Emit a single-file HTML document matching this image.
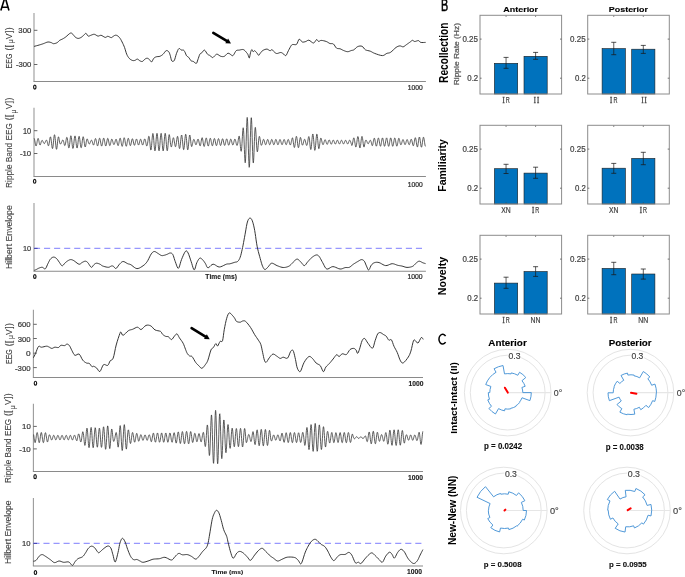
<!DOCTYPE html>
<html><head><meta charset="utf-8"><title>figure</title>
<style>html,body{margin:0;padding:0;background:#fff;}
#fig{position:relative;width:685px;height:577px;overflow:hidden;background:#fff;}
svg{display:block;}
text{font-kerning:none;}
#fig svg{will-change:transform;}
</style></head><body>
<div id="fig"><svg width="685" height="577" viewBox="0 0 685 577">
<rect x="0" y="0" width="685" height="577" fill="#fff"/>
<path d="M0.85 10.55 L4.65 -1.7 L5.45 -1.7 L8.95 10.55 M1.85 7.25 L8.0 7.25" fill="none" stroke="#000" stroke-width="1.6" stroke-linejoin="miter"/>
<line x1="34" y1="13" x2="34" y2="81.5" stroke="#9a9a9a" stroke-width="1.1"/>
<line x1="33.5" y1="81.5" x2="425.9" y2="81.5" stroke="#8a8a8a" stroke-width="1.05"/>
<line x1="34" y1="107.8" x2="34" y2="176.5" stroke="#9a9a9a" stroke-width="1.1"/>
<line x1="33.5" y1="176.5" x2="425.9" y2="176.5" stroke="#8a8a8a" stroke-width="1.05"/>
<line x1="34" y1="203" x2="34" y2="271.2" stroke="#9a9a9a" stroke-width="1.1"/>
<line x1="33.5" y1="271.2" x2="425.9" y2="271.2" stroke="#8a8a8a" stroke-width="1.05"/>
<line x1="33.4" y1="309.7" x2="33.4" y2="377.5" stroke="#9a9a9a" stroke-width="1.1"/>
<line x1="32.9" y1="377.5" x2="423" y2="377.5" stroke="#8a8a8a" stroke-width="1.05"/>
<line x1="33.4" y1="403.7" x2="33.4" y2="471.5" stroke="#9a9a9a" stroke-width="1.1"/>
<line x1="32.9" y1="471.5" x2="423" y2="471.5" stroke="#8a8a8a" stroke-width="1.05"/>
<line x1="33.4" y1="498.1" x2="33.4" y2="566" stroke="#9a9a9a" stroke-width="1.1"/>
<line x1="32.9" y1="566" x2="423" y2="566" stroke="#8a8a8a" stroke-width="1.05"/>
<line x1="34" y1="30.3" x2="37.4" y2="30.3" stroke="#555" stroke-width="0.9"/>
<line x1="34" y1="64.5" x2="37.4" y2="64.5" stroke="#555" stroke-width="0.9"/>
<line x1="34" y1="130.7" x2="37.4" y2="130.7" stroke="#555" stroke-width="0.9"/>
<line x1="34" y1="153.5" x2="37.4" y2="153.5" stroke="#555" stroke-width="0.9"/>
<line x1="33.4" y1="324.3" x2="36.8" y2="324.3" stroke="#555" stroke-width="0.9"/>
<line x1="33.4" y1="338.5" x2="36.8" y2="338.5" stroke="#555" stroke-width="0.9"/>
<line x1="33.4" y1="353.2" x2="36.8" y2="353.2" stroke="#555" stroke-width="0.9"/>
<line x1="33.4" y1="367.6" x2="36.8" y2="367.6" stroke="#555" stroke-width="0.9"/>
<line x1="33.4" y1="426.4" x2="36.8" y2="426.4" stroke="#555" stroke-width="0.9"/>
<line x1="33.4" y1="448.9" x2="36.8" y2="448.9" stroke="#555" stroke-width="0.9"/>
<line x1="34" y1="248.4" x2="425" y2="248.4" stroke="#9797fd" stroke-width="1.1" stroke-dasharray="6.1 3.95"/>
<line x1="33.4" y1="543.4" x2="422.5" y2="543.4" stroke="#9797fd" stroke-width="1.1" stroke-dasharray="6.1 3.95"/>
<line x1="34" y1="248.4" x2="37.6" y2="248.4" stroke="#4646b0" stroke-width="1.1"/>
<line x1="33.4" y1="543.4" x2="37" y2="543.4" stroke="#4646b0" stroke-width="1.1"/>
<polyline points="34.1,46.4 35.04,46.15 36.39,45.78 37.88,45.38 39.2,45 40.28,44.68 41.28,44.37 42.26,44.05 43.3,43.7 44.44,43.25 45.63,42.73 46.81,42.27 47.9,42 48.91,42 49.86,42.18 50.74,42.45 51.5,42.7 52.08,42.98 52.5,43.31 52.93,43.58 53.5,43.7 54.31,43.62 55.27,43.41 56.24,43.09 57.1,42.7 57.79,42.2 58.38,41.58 58.96,40.95 59.6,40.4 60.33,39.98 61.11,39.63 61.91,39.29 62.7,38.9 63.44,38.48 64.16,38.04 64.92,37.54 65.8,36.9 66.89,35.96 68.14,34.8 69.36,33.74 70.4,33.1 71.18,33.02 71.81,33.3 72.35,33.78 72.9,34.3 73.43,34.88 73.92,35.58 74.42,36.29 75,36.9 75.68,37.41 76.44,37.88 77.22,38.23 78,38.4 78.77,38.36 79.54,38.16 80.32,37.82 81.1,37.4 81.91,36.84 82.73,36.13 83.52,35.41 84.2,34.8 84.73,34.25 85.16,33.71 85.55,33.35 86,33.3 86.5,33.79 87.02,34.67 87.58,35.57 88.2,36.1 88.91,36.11 89.69,35.83 90.5,35.43 91.3,35.1 92.06,34.82 92.82,34.52 93.59,34.31 94.4,34.3 95.28,34.63 96.2,35.2 97.12,35.77 98,36.1 98.79,36.01 99.52,35.68 100.27,35.36 101.1,35.3 102.09,35.7 103.18,36.37 104.26,37.03 105.2,37.4 105.93,37.29 106.53,36.9 107.11,36.48 107.8,36.3 108.66,36.53 109.61,36.99 110.55,37.44 111.4,37.6 112.1,37.34 112.71,36.81 113.29,36.23 113.9,35.8 114.53,35.52 115.17,35.29 115.82,35.2 116.5,35.3 117.23,35.63 118,36.14 118.77,36.81 119.5,37.6 120.18,38.52 120.83,39.59 121.47,40.77 122.1,42 122.74,43.29 123.38,44.66 124.01,46.1 124.6,47.6 125.14,49.24 125.65,50.99 126.16,52.7 126.7,54.2 127.28,55.45 127.89,56.53 128.52,57.47 129.2,58.3 129.94,59.01 130.74,59.61 131.55,60.07 132.3,60.4 132.99,60.58 133.64,60.61 134.27,60.54 134.9,60.4 135.53,60.09 136.15,59.64 136.77,59.24 137.4,59.1 138.05,59.36 138.7,59.89 139.35,60.47 140,60.9 140.63,61.18 141.25,61.41 141.87,61.51 142.5,61.4 143.15,60.96 143.8,60.27 144.45,59.55 145.1,59 145.73,58.64 146.35,58.37 146.97,58.24 147.6,58.3 148.27,58.64 148.96,59.21 149.62,59.85 150.2,60.4 150.64,60.94 150.98,61.51 151.31,61.9 151.7,61.9 152.17,61.31 152.69,60.29 153.23,59.17 153.8,58.3 154.37,57.75 154.96,57.36 155.59,57.06 156.3,56.8 157.13,56.64 158.06,56.59 159,56.51 159.9,56.3 160.73,55.92 161.54,55.44 162.32,54.86 163.1,54.2 163.87,53.32 164.64,52.26 165.38,51.29 166.1,50.7 166.8,50.57 167.49,50.76 168.14,51.16 168.7,51.7 169.15,52.37 169.51,53.21 169.84,54.2 170.2,55.3 170.57,56.7 170.94,58.36 171.33,59.88 171.8,60.9 172.37,61.35 173.02,61.42 173.68,61.1 174.3,60.4 174.84,59.12 175.35,57.34 175.86,55.41 176.4,53.7 176.99,52.16 177.62,50.64 178.26,49.37 178.9,48.6 179.56,48.55 180.23,49.03 180.89,49.68 181.5,50.1 182.05,50.16 182.57,50.06 183.05,49.99 183.5,50.1 183.91,50.44 184.28,50.92 184.63,51.52 185,52.2 185.38,53.04 185.77,54.04 186.17,55.01 186.6,55.8 187.06,56.27 187.54,56.55 188.05,56.83 188.6,57.3 189.22,58.12 189.9,59.16 190.58,60.17 191.2,60.9 191.72,61.21 192.17,61.25 192.64,61.24 193.2,61.4 193.94,61.92 194.78,62.65 195.61,63.25 196.3,63.4 196.77,62.96 197.11,62.13 197.42,61.06 197.8,59.9 198.29,58.53 198.82,56.93 199.37,55.38 199.9,54.2 200.39,53.56 200.87,53.26 201.36,53.05 201.9,52.7 202.5,51.97 203.14,51.05 203.81,50.3 204.5,50.1 205.23,50.72 206,51.9 206.77,53.21 207.5,54.2 208.18,54.73 208.83,55.03 209.47,55.27 210.1,55.6 210.73,56.16 211.35,56.83 211.97,57.39 212.6,57.6 213.26,57.3 213.93,56.64 214.59,55.89 215.2,55.3 215.7,54.87 216.14,54.47 216.6,54.22 217.2,54.2 217.99,54.55 218.9,55.18 219.86,55.85 220.8,56.3 221.7,56.52 222.59,56.62 223.49,56.57 224.4,56.3 225.31,55.61 226.22,54.6 227.14,53.66 228.1,53.2 229.16,53.49 230.29,54.26 231.35,55.1 232.2,55.6 232.73,55.68 233.05,55.55 233.32,55.22 233.7,54.7 234.24,53.84 234.85,52.68 235.51,51.53 236.2,50.7 236.91,50.31 237.65,50.18 238.44,50.16 239.3,50.1 240.28,49.89 241.35,49.63 242.42,49.48 243.4,49.6 244.28,50.1 245.11,50.88 245.86,51.74 246.5,52.5 246.99,53.07 247.36,53.57 247.68,54.09 248,54.7 248.34,55.65 248.67,56.82 248.99,57.75 249.3,58 249.6,57.23 249.9,55.75 250.2,54.07 250.5,52.7 250.82,51.65 251.14,50.69 251.47,49.96 251.8,49.6 252.12,49.83 252.44,50.52 252.76,51.27 253.1,51.7 253.45,51.6 253.8,51.21 254.18,50.81 254.6,50.7 255.09,50.98 255.62,51.48 256.17,52.09 256.7,52.7 257.22,53.42 257.73,54.26 258.23,54.97 258.7,55.3 259.11,55.12 259.47,54.58 259.85,53.88 260.3,53.2 260.82,52.54 261.39,51.81 262.04,51.1 262.8,50.5 263.74,49.99 264.81,49.53 265.91,49.21 266.9,49.1 267.77,49.35 268.58,49.88 269.33,50.42 270,50.7 270.59,50.55 271.1,50.15 271.56,49.75 272,49.6 272.37,49.79 272.68,50.19 273.02,50.69 273.5,51.2 274.14,51.8 274.89,52.51 275.72,53.14 276.6,53.5 277.59,53.43 278.69,53.07 279.76,52.67 280.7,52.5 281.44,52.63 282.04,52.92 282.61,53.3 283.2,53.7 283.84,54.29 284.49,55.03 285.15,55.59 285.8,55.6 286.44,54.86 287.08,53.61 287.72,52.12 288.4,50.7 289.15,49.28 289.96,47.74 290.73,46.34 291.4,45.3 291.87,44.76 292.22,44.58 292.58,44.55 293.1,44.5 293.87,44.52 294.79,44.67 295.75,44.68 296.6,44.3 297.3,43.18 297.93,41.56 298.54,40.03 299.2,39.2 299.93,39.42 300.69,40.31 301.49,41.35 302.3,42 303.16,42.13 304.05,42.01 304.94,41.76 305.8,41.5 306.57,41.14 307.28,40.64 308.03,40.26 308.9,40.2 309.98,40.76 311.2,41.73 312.42,42.64 313.5,43 314.41,42.46 315.21,41.36 315.94,40.22 316.6,39.6 317.16,39.77 317.63,40.41 318.08,41.11 318.6,41.5 319.15,41.38 319.71,41 320.36,40.59 321.2,40.4 322.33,40.5 323.69,40.76 325.07,41.11 326.3,41.5 327.31,41.97 328.2,42.54 329.04,43.08 329.9,43.5 330.79,43.65 331.68,43.62 332.56,43.66 333.4,44 334.19,44.85 334.94,46.04 335.7,47.23 336.5,48.1 337.37,48.49 338.27,48.6 339.2,48.63 340.1,48.8 340.97,49.17 341.82,49.62 342.69,50.09 343.6,50.5 344.59,50.89 345.64,51.28 346.7,51.58 347.7,51.7 348.66,51.56 349.59,51.22 350.48,50.82 351.3,50.5 351.99,50.35 352.59,50.27 353.19,50.14 353.9,49.8 354.75,49.11 355.69,48.17 356.68,47.25 357.7,46.6 358.78,46.23 359.93,46.03 361.06,46.04 362.1,46.3 362.96,46.96 363.72,47.94 364.49,48.98 365.4,49.8 366.52,50.28 367.78,50.58 369.07,50.84 370.3,51.2 371.36,51.69 372.32,52.25 373.38,52.83 374.7,53.4 376.47,54.05 378.55,54.78 380.63,55.36 382.4,55.6 383.75,55.33 384.84,54.71 385.82,53.98 386.8,53.4 387.75,53.14 388.63,53.02 389.54,52.82 390.6,52.3 391.9,51.26 393.35,49.87 394.8,48.47 396.1,47.4 397.18,46.73 398.14,46.29 399.03,46.03 399.9,45.9 400.76,46.03 401.58,46.39 402.39,46.74 403.2,46.8 404.01,46.48 404.82,45.92 405.64,45.26 406.5,44.6 407.45,43.93 408.47,43.21 409.45,42.51 410.3,41.9 410.96,41.36 411.5,40.86 411.99,40.48 412.5,40.3 413.01,40.45 413.5,40.86 414.04,41.28 414.7,41.5 415.57,41.36 416.6,41.01 417.62,40.68 418.5,40.6 419.1,40.9 419.53,41.44 420,42.01 420.7,42.4 421.85,42.53 423.29,42.51 424.66,42.44 425.6,42.4" fill="none" stroke="#2b2b2b" stroke-width="0.95" stroke-linejoin="round"/>
<polyline points="34.1,270.4 34.35,270.3 34.7,270.18 35.12,270.02 35.6,269.82 36.1,269.6 36.65,269.32 37.26,268.97 37.91,268.61 38.56,268.28 39.2,268 39.82,267.77 40.44,267.55 41.07,267.38 41.69,267.28 42.3,267.3 42.91,267.56 43.53,268.06 44.13,268.57 44.73,268.89 45.3,268.8 45.85,268.19 46.37,267.21 46.89,266.02 47.39,264.79 47.9,263.7 48.4,262.71 48.88,261.7 49.36,260.73 49.86,259.85 50.4,259.1 50.98,258.48 51.6,257.94 52.23,257.52 52.87,257.23 53.5,257.1 54.12,257.13 54.74,257.32 55.37,257.64 55.99,258.08 56.6,258.6 57.21,259.27 57.83,260.1 58.43,261.01 59.03,261.9 59.6,262.7 60.14,263.48 60.64,264.31 61.14,265.05 61.65,265.59 62.2,265.8 62.79,265.56 63.41,264.96 64.04,264.17 64.68,263.36 65.3,262.7 65.91,262.18 66.53,261.69 67.13,261.24 67.73,260.84 68.3,260.5 68.84,260.2 69.35,259.95 69.85,259.75 70.36,259.63 70.9,259.6 71.44,259.65 71.97,259.78 72.53,259.99 73.16,260.29 73.9,260.7 74.82,261.33 75.88,262.18 77,263.06 78.07,263.79 79,264.2 79.75,264.19 80.38,263.88 80.96,263.4 81.51,262.9 82.1,262.5 82.73,262.17 83.37,261.83 84,261.51 84.62,261.29 85.2,261.2 85.72,261.24 86.19,261.36 86.65,261.6 87.14,261.97 87.7,262.5 88.37,263.35 89.11,264.52 89.88,265.74 90.63,266.76 91.3,267.3 91.89,267.24 92.42,266.74 92.92,266.02 93.4,265.27 93.9,264.7 94.39,264.29 94.85,263.9 95.33,263.57 95.83,263.32 96.4,263.2 97.06,263.23 97.8,263.38 98.57,263.62 99.32,263.91 100,264.2 100.55,264.52 101.01,264.89 101.45,265.28 101.99,265.66 102.7,266 103.67,266.33 104.85,266.68 106.1,266.99 107.29,267.21 108.3,267.3 109.1,267.18 109.77,266.89 110.36,266.53 110.89,266.2 111.4,266 111.86,265.93 112.25,265.91 112.61,265.97 112.98,266.09 113.4,266.3 113.87,266.72 114.35,267.36 114.87,268 115.41,268.45 116,268.5 116.64,268.03 117.33,267.17 118.05,266.12 118.78,265.06 119.5,264.2 120.2,263.48 120.88,262.77 121.58,262.15 122.31,261.7 123.1,261.5 123.98,261.65 124.94,262.08 125.92,262.67 126.86,263.26 127.7,263.7 128.37,263.93 128.9,264.05 129.42,264.15 130.01,264.33 130.8,264.7 131.83,265.4 133.02,266.37 134.32,267.38 135.63,268.2 136.9,268.6 138.15,268.49 139.44,268.02 140.7,267.34 141.91,266.55 143,265.8 143.95,265.12 144.78,264.43 145.56,263.66 146.31,262.77 147.1,261.7 147.94,260.31 148.79,258.63 149.63,256.88 150.44,255.26 151.2,254 151.88,253.1 152.49,252.42 153.08,251.94 153.67,251.64 154.3,251.5 154.97,251.58 155.67,251.89 156.37,252.34 157.09,252.85 157.8,253.3 158.53,253.75 159.28,254.27 160.02,254.77 160.74,255.21 161.4,255.5 161.99,255.63 162.53,255.63 163.03,255.55 163.55,255.43 164.1,255.3 164.7,255.16 165.32,254.97 165.95,254.76 166.58,254.53 167.2,254.3 167.81,254.01 168.43,253.67 169.03,253.33 169.63,253.09 170.2,253 170.75,253.03 171.27,253.12 171.79,253.36 172.29,253.79 172.8,254.5 173.3,255.58 173.78,257 174.26,258.59 174.76,260.21 175.3,261.7 175.88,263.3 176.5,265.12 177.13,266.79 177.77,267.97 178.4,268.3 179.01,267.53 179.6,265.9 180.2,263.79 180.82,261.56 181.5,259.6 182.26,257.75 183.1,255.77 183.96,253.88 184.78,252.31 185.5,251.3 186.1,250.89 186.62,250.92 187.09,251.34 187.57,252.05 188.1,253 188.69,254.3 189.31,256 189.94,257.92 190.58,259.88 191.2,261.7 191.81,263.62 192.43,265.76 193.03,267.75 193.63,269.25 194.2,269.9 194.74,269.4 195.24,268 195.74,266.13 196.25,264.22 196.8,262.7 197.39,261.51 198.01,260.36 198.64,259.34 199.28,258.56 199.9,258.1 200.51,258.05 201.13,258.35 201.73,258.87 202.33,259.49 202.9,260.1 203.45,260.71 203.97,261.4 204.49,262.15 204.99,262.92 205.5,263.7 205.96,264.61 206.38,265.67 206.82,266.69 207.34,267.46 208,267.8 208.84,267.47 209.8,266.61 210.86,265.55 211.97,264.63 213.1,264.2 214.26,264.44 215.46,265.13 216.7,265.98 217.98,266.7 219.3,267 220.72,266.76 222.25,266.17 223.78,265.42 225.2,264.7 226.4,264.2 227.31,263.98 228,263.92 228.58,263.92 229.17,263.91 229.9,263.8 230.81,263.56 231.81,263.25 232.85,262.91 233.83,262.58 234.7,262.3 235.42,262.13 236.05,262.06 236.62,261.97 237.16,261.78 237.7,261.4 238.23,260.86 238.74,260.22 239.23,259.43 239.71,258.44 240.2,257.2 240.69,255.66 241.17,253.86 241.64,251.87 242.12,249.73 242.6,247.5 243.08,245.14 243.56,242.6 244.04,239.96 244.52,237.3 245,234.7 245.48,232.01 245.96,229.19 246.43,226.44 246.91,223.98 247.4,222 247.9,220.55 248.4,219.49 248.9,218.76 249.4,218.32 249.9,218.1 250.39,218.11 250.87,218.37 251.34,218.9 251.82,219.71 252.3,220.8 252.78,222.2 253.26,223.89 253.74,225.85 254.22,228.06 254.7,230.5 255.17,233.31 255.63,236.52 256.09,239.88 256.58,243.19 257.1,246.2 257.69,248.93 258.32,251.54 258.98,254 259.61,256.29 260.2,258.4 260.72,260.33 261.21,262.1 261.67,263.68 262.13,265.09 262.6,266.3 263.07,267.33 263.53,268.2 263.99,268.86 264.48,269.31 265,269.5 265.57,269.37 266.17,268.93 266.79,268.3 267.44,267.58 268.1,266.9 268.76,266.13 269.41,265.2 270.1,264.29 270.85,263.56 271.7,263.2 272.67,263.31 273.74,263.79 274.87,264.45 276.04,265.15 277.2,265.7 278.38,266.15 279.59,266.61 280.81,267.03 282.02,267.34 283.2,267.5 284.36,267.48 285.53,267.33 286.66,267.06 287.73,266.71 288.7,266.3 289.58,265.78 290.39,265.12 291.12,264.42 291.76,263.75 292.3,263.2 292.67,262.82 292.88,262.54 293.02,262.3 293.23,262.04 293.6,261.7 294.17,261.16 294.88,260.48 295.66,259.8 296.45,259.29 297.2,259.1 297.9,259.3 298.6,259.79 299.3,260.46 300,261.2 300.7,261.9 301.42,262.7 302.16,263.66 302.89,264.59 303.61,265.3 304.3,265.6 304.94,265.39 305.53,264.8 306.11,263.97 306.72,263.06 307.4,262.2 308.15,261.36 308.94,260.44 309.78,259.49 310.63,258.59 311.5,257.8 312.41,257.07 313.38,256.36 314.35,255.74 315.27,255.27 316.1,255 316.79,254.93 317.39,255.02 317.93,255.29 318.49,255.74 319.1,256.4 319.77,257.35 320.47,258.57 321.2,259.94 321.94,261.36 322.7,262.7 323.46,264.1 324.21,265.64 324.99,267.11 325.84,268.3 326.8,269 327.87,269 329.04,268.44 330.28,267.63 331.58,266.91 332.9,266.6 334.3,266.83 335.8,267.4 337.32,268.08 338.78,268.69 340.1,269 341.27,268.95 342.34,268.66 343.33,268.26 344.28,267.87 345.2,267.6 346.08,267.51 346.91,267.54 347.71,267.57 348.5,267.52 349.3,267.3 350.11,266.86 350.9,266.26 351.7,265.57 352.53,264.86 353.4,264.2 354.35,263.57 355.38,262.93 356.42,262.29 357.41,261.71 358.3,261.2 359.07,260.74 359.76,260.31 360.4,259.94 361,259.69 361.6,259.6 362.19,259.66 362.75,259.85 363.28,260.17 363.8,260.62 364.3,261.2 364.77,261.98 365.22,262.97 365.64,264.05 366.07,265.13 366.5,266.1 366.93,267.09 367.36,268.16 367.78,269.13 368.23,269.81 368.7,270 369.2,269.53 369.72,268.52 370.25,267.24 370.81,265.98 371.4,265 372,264.32 372.62,263.74 373.27,263.26 373.96,262.88 374.7,262.6 375.47,262.4 376.28,262.28 377.13,262.27 378.06,262.37 379.1,262.6 380.28,263.09 381.59,263.82 382.96,264.61 384.35,265.27 385.7,265.6 387.02,265.48 388.36,265.02 389.68,264.44 390.97,263.93 392.2,263.7 393.38,263.81 394.52,264.13 395.63,264.55 396.69,264.98 397.7,265.3 398.64,265.5 399.52,265.65 400.36,265.78 401.21,265.92 402.1,266.1 403.04,266.36 404,266.69 404.97,267.02 405.97,267.28 407,267.4 408.1,267.38 409.26,267.26 410.43,267.05 411.53,266.76 412.5,266.4 413.3,265.92 413.98,265.31 414.59,264.64 415.18,263.98 415.8,263.4 416.45,262.85 417.1,262.28 417.74,261.77 418.41,261.38 419.1,261.2 419.85,261.29 420.64,261.6 421.44,262.04 422.2,262.47 422.9,262.8 423.55,263.02 424.19,263.22 424.77,263.38 425.25,263.5 425.6,263.6" fill="none" stroke="#2b2b2b" stroke-width="0.95" stroke-linejoin="round"/>
<polyline points="33.4,357.8 33.76,357.09 34.26,356.09 34.86,354.87 35.5,353.5 36.19,351.76 36.94,349.69 37.73,347.77 38.5,346.5 39.21,346.17 39.88,346.48 40.62,346.96 41.5,347.2 42.65,347.03 43.99,346.7 45.31,346.37 46.4,346.2 47.16,346.24 47.72,346.39 48.22,346.63 48.8,346.9 49.51,347.28 50.26,347.77 51.03,348.2 51.8,348.4 52.56,348.25 53.31,347.87 54.09,347.46 54.9,347.2 55.79,347.23 56.74,347.41 57.67,347.57 58.5,347.5 59.15,347.07 59.69,346.4 60.24,345.73 60.9,345.3 61.76,345.24 62.75,345.41 63.74,345.59 64.6,345.6 65.29,345.28 65.88,344.78 66.43,344.31 67,344.1 67.6,344.18 68.19,344.45 68.79,344.92 69.4,345.6 70.01,346.59 70.61,347.84 71.24,349.2 71.9,350.5 72.59,351.85 73.29,353.28 74.05,354.52 74.9,355.3 75.88,355.25 76.96,354.62 78.06,354.03 79.1,354.1 80.06,355.19 80.99,356.9 81.89,358.74 82.8,360.2 83.72,361.19 84.64,361.95 85.54,362.54 86.4,363 87.2,363.23 87.97,363.23 88.7,363.25 89.4,363.5 90.08,364.17 90.73,365.1 91.34,366 91.9,366.6 92.37,366.71 92.77,366.53 93.18,366.31 93.7,366.3 94.36,366.56 95.11,366.97 95.91,367.49 96.7,368.1 97.48,369.08 98.26,370.34 99.07,371.33 99.9,371.5 100.76,370.34 101.64,368.27 102.55,366.11 103.5,364.7 104.55,364.47 105.67,364.91 106.76,365.42 107.7,365.4 108.43,364.58 109.03,363.31 109.58,361.94 110.2,360.8 110.91,360.24 111.67,359.98 112.44,359.46 113.2,358.1 113.93,355.52 114.66,352.1 115.4,348.41 116.2,345 117.13,341.77 118.16,338.51 119.13,335.61 119.9,333.5 120.36,332.38 120.61,331.99 120.8,332.06 121.1,332.3 121.47,332.93 121.84,334.01 122.35,334.99 123.1,335.3 124.22,334.61 125.61,333.27 127.07,331.8 128.4,330.7 129.51,330.14 130.53,329.84 131.53,329.62 132.6,329.3 133.81,328.72 135.09,328.02 136.35,327.43 137.5,327.2 138.46,327.62 139.3,328.47 140.14,329.27 141.1,329.5 142.24,328.82 143.47,327.56 144.75,326.25 146,325.4 147.22,325.12 148.44,325.14 149.64,325.42 150.8,325.9 151.86,326.71 152.86,327.84 153.87,328.99 155,329.9 156.37,330.42 157.89,330.73 159.35,331 160.5,331.4 161.2,332 161.6,332.71 161.93,333.43 162.4,334.1 163.09,334.73 163.88,335.34 164.7,335.88 165.5,336.3 166.26,336.49 167.01,336.51 167.75,336.55 168.5,336.8 169.25,337.49 169.99,338.46 170.74,339.3 171.5,339.6 172.28,339.09 173.09,338.05 173.87,336.86 174.6,335.9 175.25,335.14 175.84,334.42 176.42,333.95 177,333.9 177.57,334.42 178.12,335.39 178.71,336.58 179.4,337.8 180.26,339.03 181.25,340.36 182.24,341.77 183.1,343.2 183.81,344.72 184.42,346.32 184.97,347.89 185.5,349.3 185.98,350.52 186.4,351.62 186.82,352.61 187.3,353.5 187.86,354.29 188.46,354.98 189.09,355.55 189.7,356 190.27,356.16 190.82,356.08 191.41,356.11 192.1,356.6 192.95,357.79 193.91,359.44 194.89,361.18 195.8,362.6 196.6,363.59 197.34,364.36 198.06,365.03 198.8,365.7 199.56,366.54 200.31,367.44 201.09,368.12 201.9,368.3 202.79,367.79 203.74,366.78 204.67,365.55 205.5,364.4 206.17,363.51 206.73,362.7 207.28,361.69 207.9,360.2 208.64,357.87 209.45,354.94 210.26,352.06 211,349.9 211.65,348.78 212.24,348.3 212.82,348.02 213.4,347.5 214.01,346.48 214.64,345.25 215.24,344.17 215.8,343.6 216.28,343.92 216.69,344.84 217.11,345.74 217.6,346 218.18,345.25 218.81,343.89 219.47,342.43 220.1,341.4 220.72,341.22 221.34,341.53 221.94,341.62 222.5,340.8 222.98,338.68 223.4,335.7 223.82,332.4 224.3,329.3 224.86,326.38 225.46,323.42 226.08,320.64 226.7,318.3 227.3,316.37 227.91,314.76 228.53,313.57 229.2,312.9 229.95,312.94 230.76,313.57 231.56,314.47 232.3,315.3 232.96,316.01 233.58,316.76 234.16,317.53 234.7,318.3 235.15,319.12 235.52,319.99 235.93,320.78 236.5,321.4 237.32,321.81 238.31,322.07 239.32,322.19 240.2,322.2 240.88,322 241.44,321.62 241.99,321.23 242.6,321 243.26,320.86 243.94,320.75 244.7,320.87 245.6,321.4 246.71,322.48 247.97,323.97 249.28,325.68 250.5,327.4 251.61,329.18 252.68,331.08 253.7,332.97 254.7,334.7 255.69,336.23 256.66,337.64 257.58,338.96 258.4,340.2 259.11,341.25 259.72,342.15 260.27,343.12 260.8,344.4 261.29,346.11 261.74,348.12 262.16,350.24 262.6,352.3 263.05,354.41 263.5,356.61 263.95,358.63 264.4,360.2 264.82,361.29 265.22,362.02 265.66,362.37 266.2,362.3 266.87,361.62 267.64,360.41 268.46,359.02 269.3,357.8 270.16,356.69 271.06,355.55 271.98,354.61 272.9,354.1 273.82,354.17 274.75,354.67 275.68,355.36 276.6,356 277.52,356.65 278.44,357.39 279.34,358.04 280.2,358.4 280.96,358.3 281.66,357.89 282.37,357.44 283.2,357.2 284.21,357.45 285.35,357.97 286.49,358.34 287.5,358.1 288.37,356.9 289.16,355.06 289.86,353.13 290.5,351.7 291.05,350.89 291.51,350.4 291.91,350.16 292.3,350.1 292.65,350.13 292.94,350.31 293.24,350.78 293.6,351.7 294.04,353.22 294.52,355.22 295.02,357.44 295.5,359.6 295.93,361.8 296.33,364.13 296.77,366.32 297.3,368.1 297.95,369.6 298.68,370.89 299.47,371.63 300.3,371.5 301.15,370.07 302.04,367.64 302.98,364.91 304,362.6 305.15,360.71 306.41,358.93 307.66,357.48 308.8,356.6 309.78,356.44 310.67,356.84 311.52,357.57 312.4,358.4 313.31,359.4 314.21,360.64 315.14,361.92 316.1,363 317.14,363.73 318.24,364.26 319.32,364.84 320.3,365.7 321.17,367.22 321.96,369.16 322.7,370.87 323.4,371.7 324.02,371.27 324.57,370 325.13,368.43 325.8,367.1 326.61,366.15 327.52,365.29 328.46,364.44 329.4,363.5 330.32,362.43 331.25,361.29 332.18,360.13 333.1,359 334.04,357.77 334.98,356.45 335.89,355.33 336.7,354.7 337.37,354.85 337.93,355.56 338.48,356.31 339.1,356.6 339.8,356.15 340.54,355.28 341.33,354.36 342.2,353.8 343.19,353.86 344.27,354.28 345.37,354.64 346.4,354.5 347.34,353.58 348.23,352.17 349.11,350.7 350,349.6 350.95,348.97 351.93,348.59 352.86,348.41 353.7,348.4 354.41,348.58 355.04,348.97 355.59,349.49 356.1,350.1 356.53,350.99 356.88,352.12 357.22,353.06 357.6,353.4 358.03,352.98 358.48,352.04 358.97,350.73 359.5,349.2 360.1,347.23 360.76,344.82 361.43,342.48 362.1,340.7 362.73,339.54 363.36,338.77 364,338.41 364.7,338.5 365.45,339.21 366.23,340.46 367.07,341.93 368,343.3 369.09,344.81 370.29,346.52 371.48,347.84 372.5,348.2 373.28,347.18 373.92,345.18 374.49,342.82 375.1,340.7 375.75,338.82 376.4,336.91 377.05,335.2 377.7,333.9 378.33,333.11 378.96,332.7 379.6,332.56 380.3,332.6 381.09,332.88 381.95,333.42 382.81,334.05 383.6,334.6 384.3,334.97 384.94,335.28 385.57,335.65 386.2,336.2 386.85,337.11 387.5,338.27 388.15,339.37 388.8,340.1 389.45,340.16 390.1,339.79 390.75,339.5 391.4,339.8 392.04,340.96 392.66,342.65 393.31,344.54 394,346.3 394.76,347.8 395.56,349.22 396.38,350.72 397.2,352.4 398.03,354.51 398.87,356.91 399.7,359.18 400.5,360.9 401.21,362.02 401.85,362.74 402.54,363.02 403.4,362.8 404.54,361.89 405.87,360.39 407.19,358.64 408.3,357 409.11,355.64 409.74,354.34 410.3,352.89 410.9,351.1 411.57,348.57 412.24,345.53 412.9,342.67 413.5,340.7 414.01,339.91 414.45,339.91 414.89,340.29 415.4,340.7 415.98,341.3 416.61,342.19 417.28,342.92 418,343 418.81,342 419.69,340.27 420.56,338.54 421.3,337.5 421.92,337.5 422.46,338.11 422.89,338.89 423.2,339.4" fill="none" stroke="#2b2b2b" stroke-width="0.95" stroke-linejoin="round"/>
<polyline points="33.3,561.3 33.68,561.21 34.2,561.12 34.82,560.97 35.48,560.71 36.1,560.3 36.7,559.64 37.33,558.76 37.96,557.81 38.59,556.91 39.2,556.2 39.79,555.67 40.36,555.23 40.93,554.89 41.5,554.68 42.1,554.6 42.69,554.68 43.27,554.92 43.87,555.27 44.53,555.71 45.3,556.2 46.21,556.79 47.25,557.49 48.34,558.25 49.41,559.01 50.4,559.7 51.28,560.39 52.09,561.12 52.87,561.79 53.66,562.32 54.5,562.6 55.39,562.52 56.3,562.14 57.24,561.65 58.17,561.21 59.1,561 60.01,561.1 60.92,561.39 61.82,561.76 62.75,562.1 63.7,562.3 64.71,562.28 65.78,562.12 66.84,561.93 67.87,561.85 68.8,562 69.63,562.56 70.4,563.43 71.1,564.37 71.77,565.11 72.4,565.4 72.98,565.12 73.49,564.44 73.98,563.54 74.47,562.6 75,561.8 75.55,561.13 76.09,560.47 76.67,559.84 77.29,559.24 78,558.7 78.84,558.26 79.8,557.92 80.79,557.6 81.75,557.22 82.6,556.7 83.33,556.01 83.98,555.21 84.58,554.34 85.14,553.45 85.7,552.6 86.23,551.75 86.71,550.87 87.19,550.01 87.67,549.2 88.2,548.5 88.78,547.87 89.4,547.28 90.03,546.77 90.67,546.4 91.3,546.2 91.92,546.18 92.54,546.33 93.17,546.61 93.79,547 94.4,547.5 95.03,548.19 95.67,549.09 96.3,550.05 96.88,550.93 97.4,551.6 97.78,552.07 98.06,552.44 98.31,552.68 98.63,552.74 99.1,552.6 99.76,552.16 100.54,551.46 101.41,550.62 102.31,549.76 103.2,549 104.11,548.28 105.08,547.52 106.05,546.81 106.97,546.27 107.8,546 108.52,546.01 109.16,546.22 109.74,546.63 110.28,547.23 110.8,548 111.27,549.01 111.7,550.27 112.09,551.68 112.48,553.16 112.9,554.6 113.34,556.3 113.78,558.31 114.23,560.21 114.7,561.58 115.2,562 115.74,561.2 116.32,559.46 116.91,557.19 117.48,554.77 118,552.6 118.44,550.6 118.84,548.5 119.21,546.43 119.59,544.52 120,542.9 120.45,541.52 120.92,540.3 121.4,539.3 121.89,538.61 122.4,538.3 122.92,538.43 123.46,538.96 124.01,539.78 124.56,540.79 125.1,541.9 125.62,543.17 126.12,544.67 126.63,546.3 127.15,547.94 127.7,549.5 128.29,551.03 128.91,552.61 129.54,554.14 130.18,555.54 130.8,556.7 131.4,557.62 132,558.36 132.6,558.93 133.2,559.37 133.8,559.7 134.41,559.84 135.03,559.77 135.66,559.61 136.28,559.48 136.9,559.5 137.52,559.69 138.14,559.99 138.77,560.33 139.39,560.69 140,561 140.57,561.31 141.11,561.66 141.65,561.98 142.27,562.21 143,562.3 143.89,562.21 144.89,561.99 145.96,561.68 147.05,561.33 148.1,561 149.1,560.65 150.09,560.25 151.08,559.85 152.11,559.48 153.2,559.2 154.38,559.03 155.63,558.95 156.92,558.9 158.19,558.84 159.4,558.7 160.53,558.41 161.6,558.01 162.65,557.61 163.74,557.33 164.9,557.3 166.2,557.68 167.6,558.39 169.02,559.18 170.35,559.8 171.5,560 172.43,559.67 173.19,558.98 173.87,558.1 174.51,557.18 175.2,556.4 175.93,555.69 176.65,554.95 177.36,554.25 178.08,553.71 178.8,553.4 179.5,553.42 180.18,553.72 180.87,554.14 181.6,554.55 182.4,554.8 183.31,554.83 184.3,554.74 185.33,554.61 186.34,554.54 187.3,554.6 188.18,554.82 189.03,555.13 189.85,555.52 190.66,555.95 191.5,556.4 192.36,556.98 193.25,557.7 194.13,558.41 194.98,558.93 195.8,559.1 196.57,558.84 197.31,558.26 198.03,557.47 198.72,556.61 199.4,555.8 200.04,555.01 200.65,554.16 201.25,553.29 201.86,552.42 202.5,551.6 203.22,550.84 203.99,550.11 204.77,549.39 205.49,548.66 206.1,547.9 206.58,547.18 206.95,546.52 207.27,545.8 207.57,544.9 207.9,543.7 208.25,542.19 208.59,540.45 208.93,538.5 209.3,536.34 209.7,534 210.16,531.26 210.67,528.1 211.2,524.86 211.71,521.85 212.2,519.4 212.65,517.59 213.07,516.2 213.48,515.11 213.89,514.19 214.3,513.3 214.72,512.42 215.13,511.62 215.54,510.96 215.96,510.5 216.4,510.3 216.86,510.35 217.33,510.61 217.82,511.08 218.31,511.78 218.8,512.7 219.3,513.91 219.8,515.41 220.3,517.09 220.8,518.86 221.3,520.6 221.78,522.38 222.24,524.27 222.7,526.18 223.18,528.01 223.7,529.7 224.29,531.2 224.93,532.59 225.59,533.89 226.19,535.14 226.7,536.4 227.06,537.59 227.32,538.67 227.54,539.77 227.78,540.97 228.1,542.4 228.53,544.16 229.02,546.19 229.54,548.3 230.08,550.33 230.6,552.1 231.1,553.73 231.58,555.34 232.08,556.74 232.61,557.75 233.2,558.2 233.87,557.84 234.6,556.8 235.36,555.43 236.1,554.08 236.8,553.1 237.43,552.49 238.01,552.01 238.59,551.67 239.17,551.47 239.8,551.4 240.47,551.48 241.17,551.72 241.9,552.08 242.64,552.55 243.4,553.1 244.21,553.78 245.06,554.62 245.92,555.52 246.74,556.41 247.5,557.2 248.15,558.02 248.73,558.91 249.27,559.71 249.85,560.23 250.5,560.3 251.25,559.78 252.06,558.8 252.91,557.55 253.76,556.25 254.6,555.1 255.43,554.07 256.26,553.02 257.1,552 257.91,551.07 258.7,550.3 259.45,549.64 260.18,549.04 260.88,548.58 261.59,548.32 262.3,548.3 263.01,548.61 263.72,549.2 264.42,549.97 265.15,550.8 265.9,551.6 266.7,552.39 267.53,553.26 268.38,554.14 269.21,554.97 270,555.7 270.73,556.3 271.41,556.8 272.09,557.26 272.77,557.71 273.5,558.2 274.27,558.81 275.07,559.52 275.9,560.2 276.74,560.73 277.6,561 278.48,560.94 279.38,560.62 280.3,560.16 281.24,559.65 282.2,559.2 283.15,558.78 284.1,558.3 285.08,557.84 286.13,557.46 287.3,557.2 288.68,557.07 290.24,557.03 291.84,557.09 293.34,557.24 294.6,557.5 295.57,557.89 296.34,558.42 296.98,559.02 297.58,559.67 298.2,560.3 298.82,561.16 299.39,562.29 299.95,563.32 300.54,563.88 301.2,563.6 301.96,562.18 302.78,559.86 303.64,557.1 304.49,554.36 305.3,552.1 306.06,550.34 306.8,548.76 307.52,547.35 308.22,546.07 308.9,544.9 309.55,543.84 310.17,542.91 310.77,542.1 311.38,541.4 312,540.8 312.65,540.27 313.31,539.82 313.97,539.48 314.64,539.3 315.3,539.3 315.97,539.56 316.65,540.05 317.33,540.67 317.98,541.32 318.6,541.9 319.15,542.41 319.65,542.93 320.13,543.43 320.63,543.93 321.2,544.4 321.85,544.81 322.55,545.15 323.29,545.5 324.01,545.93 324.7,546.5 325.35,547.24 325.97,548.09 326.58,549.03 327.19,550.04 327.8,551.1 328.42,552.27 329.04,553.56 329.67,554.88 330.29,556.13 330.9,557.2 331.5,558.17 332.08,559.1 332.66,559.9 333.26,560.43 333.9,560.6 334.59,560.26 335.32,559.48 336.07,558.48 336.8,557.48 337.5,556.7 338.13,556.13 338.7,555.64 339.28,555.22 339.89,554.87 340.6,554.6 341.44,554.47 342.38,554.47 343.36,554.52 344.32,554.52 345.2,554.4 345.99,554.04 346.74,553.5 347.45,552.95 348.13,552.53 348.8,552.4 349.43,552.56 350.01,552.9 350.59,553.43 351.17,554.16 351.8,555.1 352.49,556.45 353.23,558.22 353.98,560.08 354.72,561.71 355.4,562.8 356.03,563.18 356.62,563.07 357.19,562.7 357.74,562.33 358.3,562.2 358.83,562.43 359.34,562.87 359.84,563.31 360.39,563.59 361,563.5 361.7,562.95 362.48,562.06 363.29,560.99 364.11,559.88 364.9,558.9 365.67,558.01 366.45,557.12 367.22,556.26 367.97,555.47 368.7,554.8 369.38,554.2 370.03,553.63 370.67,553.18 371.32,552.91 372,552.9 372.74,553.23 373.51,553.85 374.29,554.63 375.06,555.46 375.8,556.2 376.49,556.87 377.16,557.55 377.8,558.22 378.45,558.88 379.1,559.5 379.76,560.22 380.42,561.04 381.08,561.78 381.74,562.23 382.4,562.2 383.05,561.52 383.7,560.33 384.34,558.87 385.01,557.41 385.7,556.2 386.45,555.17 387.24,554.15 388.04,553.24 388.8,552.56 389.5,552.2 390.12,552.25 390.68,552.65 391.21,553.25 391.71,553.95 392.2,554.6 392.65,555.38 393.06,556.36 393.46,557.31 393.9,557.97 394.4,558.1 394.99,557.51 395.64,556.36 396.33,554.93 397.02,553.52 397.7,552.4 398.36,551.52 399.02,550.7 399.68,550.01 400.34,549.52 401,549.3 401.66,549.39 402.32,549.73 402.98,550.28 403.64,550.99 404.3,551.8 404.96,552.81 405.62,554.05 406.29,555.38 406.95,556.68 407.6,557.8 408.24,558.75 408.88,559.61 409.52,560.39 410.16,561.09 410.8,561.7 411.45,562.27 412.11,562.8 412.78,563.22 413.44,563.47 414.1,563.5 414.77,563.26 415.45,562.8 416.12,562.17 416.78,561.42 417.4,560.6 417.98,559.67 418.52,558.59 419.04,557.42 419.56,556.24 420.1,555.1 420.7,553.91 421.35,552.64 421.98,551.4 422.52,550.35 422.9,549.6" fill="none" stroke="#2b2b2b" stroke-width="0.95" stroke-linejoin="round"/>
<polyline points="34.2,138.3 34.4,138.85 34.6,139.7 34.8,140.77 35,141.95 35.2,143.14 35.4,144.23 35.6,145.11 35.8,145.71 36,145.96 36.2,145.86 36.4,145.41 36.6,144.65 36.8,143.66 37,142.54 37.2,141.38 37.4,140.3 37.6,139.41 37.8,138.77 38,138.46 38.2,138.48 38.4,138.85 38.6,139.52 38.8,140.41 39,141.43 39.2,142.49 39.4,143.47 39.6,144.27 39.8,144.81 40,145.05 40.2,144.98 40.4,144.64 40.6,144.1 40.8,143.43 41,142.71 41.2,142.02 41.4,141.41 41.6,140.92 41.8,140.57 42,140.38 42.2,140.34 42.4,140.47 42.6,140.74 42.8,141.11 43,141.56 43.2,142.04 43.4,142.51 43.6,142.93 43.8,143.26 44,143.49 44.2,143.59 44.4,143.56 44.6,143.39 44.8,143.11 45,142.73 45.2,142.28 45.4,141.79 45.6,141.3 45.8,140.85 46,140.49 46.2,140.21 46.4,140.11 46.6,140.19 46.8,140.47 47,140.94 47.2,141.61 47.4,142.42 47.6,143.3 47.8,144.17 48,144.94 48.2,145.5 48.4,145.77 48.6,145.69 48.8,145.22 49,144.4 49.2,143.27 49.4,141.93 49.6,140.51 49.8,139.16 50,138.01 50.2,137.21 50.4,136.85 50.6,136.97 50.8,137.6 51,138.69 51.2,140.16 51.4,141.88 51.6,143.69 51.8,145.42 52,146.9 52.2,147.98 52.4,148.53 52.6,148.49 52.8,147.83 53,146.6 53.2,144.91 53.4,142.9 53.6,140.76 53.8,138.69 54,136.9 54.2,135.56 54.4,134.83 54.6,134.78 54.8,135.42 55,136.7 55.2,138.51 55.4,140.67 55.6,142.96 55.8,145.16 56,147.05 56.2,148.44 56.4,149.19 56.6,149.27 56.8,148.65 57,147.44 57.2,145.77 57.4,143.84 57.6,141.86 57.8,140.01 58,138.46 58.2,137.4 58.4,136.86 58.6,136.9 58.8,137.46 59,138.39 59.2,139.57 59.4,140.81 59.6,141.97 59.8,142.92 60,143.59 60.2,144 60.4,144.12 60.6,144.04 60.8,143.83 61,143.48 61.2,143.13 61.4,142.71 61.6,142.27 61.8,141.8 62,141.32 62.2,140.83 62.4,140.4 62.6,140.08 62.8,139.92 63,139.99 63.2,140.3 63.4,140.84 63.6,141.57 63.8,142.43 64,143.33 64.2,144.17 64.4,144.88 64.6,145.36 64.8,145.55 65,145.43 65.2,144.97 65.4,144.19 65.6,143.15 65.8,141.94 66,140.67 66.2,139.46 66.4,138.44 66.6,137.71 66.8,137.37 67,137.48 67.2,138.04 67.4,139.02 67.6,140.34 67.8,141.9 68,143.53 68.2,145.09 68.4,146.42 68.6,147.38 68.8,147.87 69,147.82 69.2,147.2 69.4,146.09 69.6,144.58 69.8,142.8 70,140.92 70.2,139.12 70.4,137.59 70.6,136.46 70.8,135.85 71,135.82 71.2,136.39 71.4,137.5 71.6,139.05 71.8,140.88 72,142.83 72.2,144.72 72.4,146.36 72.6,147.6 72.8,148.32 73,148.46 73.2,148.01 73.4,147.01 73.6,145.55 73.8,143.78 74,141.86 74.2,139.98 74.4,138.3 74.6,136.99 74.8,136.17 75,135.9 75.2,136.21 75.4,137.06 75.6,138.38 75.8,140.03 76,141.87 76.2,143.71 76.4,145.39 76.6,146.76 76.8,147.68 77,148.08 77.2,147.93 77.4,147.23 77.6,146.06 77.8,144.53 78,142.78 78.2,140.98 78.4,139.29 78.6,137.87 78.8,136.85 79,136.32 79.2,136.34 79.4,136.89 79.6,137.92 79.8,139.34 80,141 80.2,142.76 80.4,144.44 80.6,145.9 80.8,146.99 81,147.62 81.2,147.73 81.4,147.32 81.6,146.42 81.8,145.13 82,143.57 82.2,141.89 82.4,140.24 82.6,138.78 82.8,137.64 83,136.93 83.2,136.71 83.4,137 83.6,137.75 83.8,138.9 84,140.33 84.2,141.9 84.4,143.46 84.6,144.87 84.8,146 85,146.74 85.2,147 85.4,146.8 85.6,146.17 85.8,145.19 86,143.94 86.2,142.6 86.4,141.3 86.6,140.21 86.8,139.4 87,138.97 87.2,138.9 87.4,139.13 87.6,139.59 87.8,140.19 88,140.91 88.2,141.64 88.4,142.36 88.6,143 88.8,143.51 89,143.85 89.2,144.01 89.4,143.99 89.6,143.82 89.8,143.5 90,143.07 90.2,142.57 90.4,142.03 90.6,141.5 90.8,141.02 91,140.63 91.2,140.33 91.4,140.19 91.6,140.22 91.8,140.4 92,140.78 92.2,141.33 92.4,142.01 92.6,142.77 92.8,143.53 93,144.22 93.2,144.75 93.4,145.05 93.6,145.07 93.8,144.79 94,144.24 94.2,143.44 94.4,142.48 94.6,141.45 94.8,140.45 95,139.58 95.2,138.94 95.4,138.58 95.6,138.55 95.8,138.86 96,139.47 96.2,140.35 96.4,141.4 96.6,142.53 96.8,143.63 97,144.6 97.2,145.34 97.4,145.79 97.6,145.89 97.8,145.64 98,145.06 98.2,144.19 98.4,143.12 98.6,141.95 98.8,140.79 99,139.74 99.2,138.91 99.4,138.37 99.6,138.18 99.8,138.35 100,138.88 100.2,139.71 100.4,140.76 100.6,141.95 100.8,143.15 101,144.26 101.2,145.17 101.4,145.79 101.6,146.07 101.8,145.98 102,145.53 102.2,144.76 102.4,143.73 102.6,142.56 102.8,141.34 103,140.19 103.2,139.22 103.4,138.52 103.6,138.16 103.8,138.16 104,138.53 104.2,139.23 104.4,140.2 104.6,141.34 104.8,142.55 105,143.72 105.2,144.72 105.4,145.48 105.6,145.92 105.8,146 106,145.71 106.2,145.09 106.4,144.2 106.6,143.12 106.8,141.95 107,140.81 107.2,139.79 107.4,139 107.6,138.51 107.8,138.35 108,138.54 108.2,139.06 108.4,139.86 108.6,140.86 108.8,141.96 109,143.06 109.2,144.06 109.4,144.86 109.6,145.39 109.8,145.61 110,145.51 110.2,145.08 110.4,144.38 110.6,143.48 110.8,142.48 111,141.47 111.2,140.56 111.4,139.81 111.6,139.31 111.8,139.09 112,139.16 112.2,139.5 112.4,140.06 112.6,140.78 112.8,141.59 113,142.4 113.2,143.16 113.4,143.8 113.6,144.28 113.8,144.55 114,144.59 114.2,144.43 114.4,144.05 114.6,143.49 114.8,142.79 115,142 115.2,141.2 115.4,140.44 115.6,139.81 115.8,139.38 116,139.18 116.2,139.25 116.4,139.6 116.6,140.21 116.8,141.02 117,141.98 117.2,142.98 117.4,143.93 117.6,144.73 117.8,145.3 118,145.59 118.2,145.55 118.4,145.18 118.6,144.51 118.8,143.6 119,142.52 119.2,141.39 119.4,140.29 119.6,139.35 119.8,138.64 120,138.25 120.2,138.21 120.4,138.54 120.6,139.21 120.8,140.17 121,141.32 121.2,142.57 121.4,143.8 121.6,144.88 121.8,145.72 122,146.23 122.2,146.35 122.4,146.07 122.6,145.42 122.8,144.45 123,143.25 123.2,141.93 123.4,140.62 123.6,139.44 123.8,138.51 124,137.91 124.2,137.71 124.4,137.92 124.6,138.52 124.8,139.45 125,140.63 125.2,141.93 125.4,143.24 125.6,144.43 125.8,145.39 126,146.02 126.2,146.28 126.4,146.15 126.6,145.65 126.8,144.82 127,143.76 127.2,142.56 127.4,141.34 127.6,140.22 127.8,139.29 128,138.63 128.2,138.3 128.4,138.34 128.6,138.72 128.8,139.4 129,140.32 129.2,141.4 129.4,142.52 129.6,143.59 129.8,144.51 130,145.19 130.2,145.59 130.4,145.65 130.6,145.39 130.8,144.82 131,144.01 131.2,143.02 131.4,141.97 131.6,140.93 131.8,140.02 132,139.31 132.2,138.86 132.4,138.72 132.6,138.89 132.8,139.36 133,140.08 133.2,140.98 133.4,141.97 133.6,142.97 133.8,143.87 134,144.6 134.2,145.09 134.4,145.3 134.6,145.21 134.8,144.83 135,144.2 135.2,143.39 135.4,142.46 135.6,141.51 135.8,140.62 136,139.87 136.2,139.34 136.4,139.07 136.6,139.09 136.8,139.38 137,139.92 137.2,140.66 137.4,141.53 137.6,142.44 137.8,143.32 138,144.08 138.2,144.64 138.4,144.97 138.6,145.03 138.8,144.82 139,144.36 139.2,143.69 139.4,142.87 139.6,141.99 139.8,141.12 140,140.34 140.2,139.73 140.4,139.33 140.6,139.2 140.8,139.33 141,139.73 141.2,140.34 141.4,141.12 141.6,141.99 141.8,142.87 142,143.69 142.2,144.36 142.4,144.82 142.6,145.04 142.8,144.98 143,144.65 143.2,144.09 143.4,143.33 143.6,142.45 143.8,141.52 144,140.63 144.2,139.87 144.4,139.31 144.6,138.98 144.8,138.94 145,139.2 145.2,139.74 145.4,140.51 145.6,141.46 145.8,142.49 146,143.53 146.2,144.49 146.4,145.27 146.6,145.77 146.8,145.98 147,145.84 147.2,145.32 147.4,144.47 147.6,143.31 147.8,141.92 148,140.42 148.2,138.95 148.4,137.67 148.6,136.74 148.8,136.29 149,136.38 149.2,137.03 149.4,138.22 149.6,139.85 149.8,141.84 150,144 150.2,146.12 150.4,147.97 150.6,149.34 150.8,150.02 151,149.96 151.2,149.15 151.4,147.61 151.6,145.52 151.8,143.07 152,140.48 152.2,138.02 152.4,135.93 152.6,134.39 152.8,133.57 153,133.53 153.2,134.31 153.4,135.83 153.6,137.94 153.8,140.44 154,143.1 154.2,145.68 154.4,147.94 154.6,149.64 154.8,150.65 155,150.86 155.2,150.25 155.4,148.88 155.6,146.88 155.8,144.43 156,141.76 156.2,139.13 156.4,136.77 156.6,134.91 156.8,133.72 157,133.31 157.2,133.72 157.4,134.92 157.6,136.78 157.8,139.13 158,141.76 158.2,144.42 158.4,146.87 158.6,148.86 158.8,150.23 159,150.83 159.2,150.63 159.4,149.63 159.6,147.92 159.8,145.68 160,143.1 160.2,140.43 160.4,137.92 160.6,135.79 160.8,134.25 161,133.43 161.2,133.43 161.4,134.24 161.6,135.77 161.8,137.9 162,140.43 162.2,143.11 162.4,145.7 162.6,147.97 162.8,149.68 163,150.7 163.2,150.91 163.4,150.3 163.6,148.92 163.8,146.91 164,144.45 164.2,141.76 164.4,139.11 164.6,136.73 164.8,134.86 165,133.66 165.2,133.25 165.4,133.67 165.6,134.87 165.8,136.74 166,139.12 166.2,141.76 166.4,144.43 166.6,146.86 166.8,148.85 167,150.19 167.2,150.76 167.4,150.51 167.6,149.48 167.8,147.79 168,145.58 168.2,143.06 168.4,140.52 168.6,138.2 168.8,136.3 169,135.09 169.2,134.58 169.4,134.83 169.6,135.81 169.8,137.3 170,139.1 170.2,140.97 170.4,142.74 170.6,144.29 170.8,145.55 171,146.4 171.2,146.88 171.4,146.91 171.6,146.49 171.8,145.7 172,144.61 172.2,143.31 172.4,141.93 172.6,140.58 172.8,139.39 173,138.47 173.2,137.88 173.4,137.68 173.6,137.89 173.8,138.49 174,139.42 174.2,140.6 174.4,141.93 174.6,143.28 174.8,144.53 175,145.57 175.2,146.32 175.4,146.69 175.6,146.65 175.8,146.21 176,145.35 176.2,144.16 176.4,142.69 176.6,141.09 176.8,139.5 177,138.1 177.2,137.02 177.4,136.41 177.6,136.33 177.8,136.8 178,137.78 178.2,139.2 178.4,140.93 178.6,142.81 178.8,144.66 179,146.31 179.2,147.59 179.4,148.38 179.6,148.59 179.8,148.2 180,147.22 180.2,145.74 180.4,143.89 180.6,141.84 180.8,139.78 181,137.9 181.2,136.38 181.4,135.38 181.6,135 181.8,135.28 182,136.21 182.2,137.7 182.4,139.63 182.6,141.82 182.8,144.06 183,146.15 183.2,147.88 183.4,149.09 183.6,149.66 183.8,149.52 184,148.68 184.2,147.22 184.4,145.26 184.6,142.99 184.8,140.62 185,138.37 185.2,136.47 185.4,135.09 185.6,134.36 185.8,134.35 186,135.06 186.2,136.44 186.4,138.35 186.6,140.61 186.8,143 187,145.3 187.2,147.3 187.4,148.8 187.6,149.67 187.8,149.83 188,149.25 188.2,148.02 188.4,146.25 188.6,144.11 188.8,141.81 189,139.58 189.2,137.62 189.4,136.13 189.6,135.23 189.8,135 190,135.43 190.2,136.52 190.4,138.07 190.6,139.92 190.8,141.86 191,143.65 191.2,145.1 191.4,146.06 191.6,146.52 191.8,146.48 192,146.04 192.2,145.34 192.4,144.42 192.6,143.46 192.8,142.46 193,141.53 193.2,140.7 193.4,140.04 193.6,139.59 193.8,139.39 194,139.41 194.2,139.68 194.4,140.18 194.6,140.83 194.8,141.59 195,142.4 195.2,143.19 195.4,143.87 195.6,144.4 195.8,144.73 196,144.81 196.2,144.64 196.4,144.23 196.6,143.61 196.8,142.85 197,141.99 197.2,141.13 197.4,140.34 197.6,139.7 197.8,139.27 198,139.1 198.2,139.19 198.4,139.57 198.6,140.19 198.8,141.01 199,141.97 199.2,142.99 199.4,143.98 199.6,144.85 199.8,145.49 200,145.84 200.2,145.85 200.4,145.49 200.6,144.78 200.8,143.78 201,142.58 201.2,141.29 201.4,140.05 201.6,138.98 201.8,138.19 202,137.75 202.2,137.74 202.4,138.14 202.6,138.91 202.8,139.98 203,141.26 203.2,142.61 203.4,143.91 203.6,145.03 203.8,145.88 204,146.37 204.2,146.45 204.4,146.13 204.6,145.44 204.8,144.44 205,143.24 205.2,141.94 205.4,140.66 205.6,139.54 205.8,138.66 206,138.11 206.2,137.94 206.4,138.15 206.6,138.73 206.8,139.61 207,140.72 207.2,141.94 207.4,143.17 207.6,144.29 207.8,145.2 208,145.81 208.2,146.08 208.4,145.97 208.6,145.51 208.8,144.73 209,143.71 209.2,142.55 209.4,141.36 209.6,140.24 209.8,139.3 210,138.63 210.2,138.29 210.4,138.3 210.6,138.66 210.8,139.35 211,140.28 211.2,141.38 211.4,142.53 211.6,143.64 211.8,144.6 212,145.32 212.2,145.74 212.4,145.82 212.6,145.55 212.8,144.96 213,144.11 213.2,143.08 213.4,141.96 213.6,140.86 213.8,139.88 214,139.12 214.2,138.63 214.4,138.47 214.6,138.65 214.8,139.15 215,139.92 215.2,140.89 215.4,141.96 215.6,143.05 215.8,144.04 216,144.85 216.2,145.4 216.4,145.64 216.6,145.55 216.8,145.14 217,144.45 217.2,143.54 217.4,142.5 217.6,141.43 217.8,140.43 218,139.58 218.2,138.98 218.4,138.66 218.6,138.67 218.8,138.99 219,139.61 219.2,140.45 219.4,141.44 219.6,142.49 219.8,143.51 220,144.38 220.2,145.04 220.4,145.43 220.6,145.5 220.8,145.26 221,144.72 221.2,143.95 221.4,143 221.6,141.97 221.8,140.96 222,140.05 222.2,139.34 222.4,138.89 222.6,138.74 222.8,138.9 223,139.36 223.2,140.07 223.4,140.97 223.6,141.97 223.8,142.98 224,143.91 224.2,144.66 224.4,145.17 224.6,145.4 224.8,145.32 225,144.94 225.2,144.29 225.4,143.44 225.6,142.48 225.8,141.48 226,140.54 226.2,139.76 226.4,139.19 226.6,138.9 226.8,138.91 227,139.22 227.2,139.79 227.4,140.57 227.6,141.49 227.8,142.46 228,143.39 228.2,144.2 228.4,144.8 228.6,145.15 228.8,145.21 229,144.98 229.2,144.49 229.4,143.78 229.6,142.91 229.8,141.98 230,141.07 230.2,140.26 230.4,139.62 230.6,139.22 230.8,139.09 231,139.24 231.2,139.65 231.4,140.29 231.6,141.09 231.8,141.99 232,142.89 232.2,143.71 232.4,144.38 232.6,144.83 232.8,145.03 233,144.96 233.2,144.62 233.4,144.06 233.6,143.3 233.8,142.44 234,141.54 234.2,140.69 234.4,139.97 234.6,139.45 234.8,139.16 235,139.14 235.2,139.4 235.4,139.91 235.6,140.64 235.8,141.51 236,142.46 236.2,143.39 236.4,144.24 236.6,144.91 236.8,145.34 237,145.49 237.2,145.37 237.4,144.91 237.6,144.15 237.8,143.16 238,141.94 238.2,140.55 238.4,139.09 238.6,137.71 238.8,136.68 239,136.1 239.2,136.12 239.4,136.74 239.6,137.96 239.8,139.69 240,141.82 240.2,144.15 240.4,146.48 240.6,148.56 240.8,150.18 241,151.13 241.2,151.27 241.4,150.52 241.6,148.87 241.8,146.43 242,143.36 242.2,139.91 242.4,136.37 242.6,133.04 242.8,130.28 243,128.42 243.2,127.75 243.4,128.49 243.6,130.69 243.8,134.26 244,138.86 244.2,144.12 244.4,149.54 244.6,154.61 244.8,158.81 245,161.64 245.2,162.72 245.4,161.83 245.6,158.93 245.8,154.25 246,148.15 246.2,141.21 246.4,134.1 246.6,127.59 246.8,122.29 247,118.74 247.2,117.45 247.4,118.47 247.6,121.7 247.8,126.92 248,133.61 248.2,141.14 248.4,148.79 248.6,155.83 248.8,161.6 249,165.56 249.2,167.33 249.4,166.73 249.6,163.81 249.8,158.89 250,152.41 250.2,144.98 250.4,137.33 250.6,130.16 250.8,124.14 251,119.87 251.2,117.7 251.4,117.83 251.6,120.24 251.8,124.69 252,130.66 252.2,137.6 252.4,144.77 252.6,151.45 252.8,156.99 253,160.89 253.2,162.83 253.4,162.75 253.6,160.76 253.8,157.19 254,152.43 254.2,146.99 254.4,141.42 254.6,136.27 254.8,132.03 255,129.05 255.2,127.5 255.4,127.41 255.6,128.68 255.8,131.03 256,134.22 256.2,137.87 256.4,141.64 256.6,145.16 256.8,148.13 257,150.31 257.2,151.56 257.4,151.82 257.6,151.17 257.8,149.74 258,147.73 258.2,145.4 258.4,142.98 258.6,140.72 258.8,138.81 259,137.42 259.2,136.58 259.4,136.34 259.6,136.64 259.8,137.4 260,138.5 260.2,139.82 260.4,141.23 260.6,142.6 260.8,143.81 261,144.76 261.2,145.31 261.4,145.24 261.6,145.16 261.8,144.89 262,144.37 262.2,143.68 262.4,142.86 262.6,141.99 262.8,141.14 263,140.4 263.2,139.82 263.4,139.45 263.6,139.34 263.8,139.48 264,139.86 264.2,140.45 264.4,141.18 264.6,142 264.8,142.82 265,143.57 265.2,144.18 265.4,144.6 265.6,144.78 265.8,144.71 266,144.4 266.2,143.88 266.4,143.19 266.6,142.41 266.8,141.59 267,140.82 267.2,140.17 267.4,139.71 267.6,139.46 267.8,139.46 268,139.71 268.2,140.18 268.4,140.82 268.6,141.59 268.8,142.41 269,143.19 269.2,143.88 269.4,144.4 269.6,144.7 269.8,144.77 270,144.58 270.2,144.17 270.4,143.56 270.6,142.81 270.8,142 271,141.19 271.2,140.47 271.4,139.9 271.6,139.54 271.8,139.41 272,139.54 272.2,139.9 272.4,140.47 272.6,141.19 272.8,142 273,142.81 273.2,143.56 273.4,144.18 273.6,144.6 273.8,144.79 274,144.73 274.2,144.42 274.4,143.9 274.6,143.2 274.8,142.41 275,141.59 275.2,140.81 275.4,140.16 275.6,139.68 275.8,139.44 276,139.44 276.2,139.69 276.4,140.16 276.6,140.82 276.8,141.59 277,142.41 277.2,143.2 277.4,143.88 277.6,144.4 277.8,144.71 278,144.77 278.2,144.58 278.4,144.16 278.6,143.55 278.8,142.81 279,142 279.2,141.2 279.4,140.49 279.6,139.93 279.8,139.58 280,139.46 280.2,139.58 280.4,139.94 280.6,140.5 280.8,141.21 281,142 281.2,142.8 281.4,143.53 281.6,144.12 281.8,144.53 282,144.71 282.2,144.65 282.4,144.35 282.6,143.84 282.8,143.17 283,142.4 283.2,141.6 283.4,140.86 283.6,140.22 283.8,139.76 284,139.53 284.2,139.53 284.4,139.77 284.6,140.22 284.8,140.86 285,141.6 285.2,142.4 285.4,143.17 285.6,143.83 285.8,144.34 286,144.64 286.2,144.71 286.4,144.53 286.6,144.12 286.8,143.53 287,142.8 287.2,142 287.4,141.21 287.6,140.5 287.8,139.93 288,139.57 288.2,139.44 288.4,139.55 288.6,139.9 288.8,140.46 289,141.18 289.2,142 289.4,142.83 289.6,143.61 289.8,144.25 290,144.7 290.2,144.94 290.4,144.91 290.6,144.62 290.8,144.08 291,143.34 291.2,142.45 291.4,141.49 291.6,140.53 291.8,139.65 292,138.86 292.2,138.26 292.4,137.8 292.6,137.88 292.8,138.6 293,139.71 293.2,141.13 293.4,142.69 293.6,144.24 293.8,145.62 294,146.69 294.2,147.36 294.4,147.54 294.6,147.2 294.8,146.38 295,145.14 295.2,143.59 295.4,141.88 295.6,140.18 295.8,138.64 296,137.41 296.2,136.61 296.4,136.32 296.6,136.59 296.8,137.36 297,138.58 297.2,140.14 297.4,141.88 297.6,143.63 297.8,145.22 298,146.51 298.2,147.36 298.4,147.7 298.6,147.52 298.8,146.83 299,145.72 299.2,144.29 299.4,142.7 299.6,141.11 299.8,139.67 300,138.5 300.2,137.73 300.4,137.41 300.6,137.55 300.8,138.13 301,139.03 301.2,140.15 301.4,141.36 301.6,142.53 301.8,143.55 302,144.36 302.2,144.91 302.4,145.15 302.6,145.14 302.8,144.86 303,144.34 303.2,143.66 303.4,142.85 303.6,141.99 303.8,141.15 304,140.4 304.2,139.81 304.4,139.43 304.6,139.28 304.8,139.4 305,139.77 305.2,140.35 305.4,141.11 305.6,141.99 305.8,142.9 306,143.77 306.2,144.53 306.4,145.08 306.6,145.4 306.8,145.41 307,145.11 307.2,144.54 307.4,143.66 307.6,142.56 307.8,141.29 308,139.96 308.2,138.66 308.4,137.56 308.6,136.81 308.8,136.52 309,136.78 309.2,137.64 309.4,139.02 309.6,140.84 309.8,142.88 310,144.96 310.2,146.84 310.4,148.32 310.6,149.27 310.8,149.54 311,149.1 311.2,148 311.4,146.3 311.6,144.17 311.8,141.8 312,139.42 312.2,137.26 312.4,135.52 312.6,134.38 312.8,133.97 313,134.31 313.2,135.39 313.4,137.11 313.6,139.31 313.8,141.78 314,144.3 314.2,146.61 314.4,148.51 314.6,149.81 314.8,150.39 315,150.19 315.2,149.23 315.4,147.61 315.6,145.48 315.8,143.04 316,140.54 316.2,138.2 316.4,136.25 316.6,134.86 316.8,134.17 317,134.24 317.2,135.04 317.4,136.47 317.6,138.42 317.8,140.65 318,142.96 318.2,145.1 318.4,146.87 318.6,148.11 318.8,148.67 319,148.59 319.2,147.88 319.4,146.69 319.6,145.17 319.8,143.52 320,141.91 320.2,140.47 320.4,139.33 320.6,138.53 320.8,138.11 321,138.1 321.2,138.48 321.4,139.19 321.6,140.19 321.8,141.1 322,141.99 322.2,142.83 322.4,143.58 322.6,144.18 322.8,144.56 323,144.71 323.2,144.61 323.4,144.3 323.6,143.79 323.8,143.13 324,142.39 324.2,141.63 324.4,140.93 324.6,140.34 324.8,139.93 325,139.73 325.2,139.74 325.4,139.97 325.6,140.39 325.8,140.97 326,141.65 326.2,142.37 326.4,143.05 326.6,143.64 326.8,144.08 327,144.33 327.2,144.37 327.4,144.2 327.6,143.84 327.8,143.32 328,142.69 328.2,142.01 328.4,141.35 328.6,140.76 328.8,140.3 329,140.01 329.2,139.91 329.4,140.02 329.6,140.32 329.8,140.79 330,141.37 330.2,142.02 330.4,142.67 330.6,143.26 330.8,143.74 331,144.07 331.2,144.21 331.4,144.15 331.6,143.9 331.8,143.49 332,142.95 332.2,142.34 332.4,141.71 332.6,141.11 332.8,140.62 333,140.26 333.2,140.07 333.4,140.08 333.6,140.27 333.8,140.63 334,141.13 334.2,141.71 334.4,142.33 334.6,142.92 334.8,143.44 335,143.82 335.2,144.05 335.4,144.09 335.6,143.94 335.8,143.63 336,143.17 336.2,142.62 336.4,142.02 336.6,141.44 336.8,140.91 337,140.5 337.2,140.24 337.4,140.16 337.6,140.25 337.8,140.52 338,140.93 338.2,141.45 338.4,142.03 338.6,142.61 338.8,143.14 339,143.58 339.2,143.88 339.4,144.01 339.6,143.96 339.8,143.74 340,143.36 340.2,142.88 340.4,142.32 340.6,141.74 340.8,141.2 341,140.74 341.2,140.41 341.4,140.24 341.6,140.25 341.8,140.42 342,140.75 342.2,141.21 342.4,141.74 342.6,142.31 342.8,142.86 343,143.34 343.2,143.7 343.4,143.91 343.6,143.96 343.8,143.83 344,143.53 344.2,143.11 344.4,142.59 344.6,142.03 344.8,141.47 345,140.98 345.2,140.58 345.4,140.33 345.6,140.25 345.8,140.34 346,140.59 346.2,140.98 346.4,141.47 346.6,142.03 346.8,142.59 347,143.11 347.2,143.54 347.4,143.84 347.6,143.97 347.8,143.93 348,143.72 348.2,143.36 348.4,142.87 348.6,142.32 348.8,141.74 349,141.19 349.2,140.72 349.4,140.37 349.6,140.17 349.8,140.15 350,140.32 350.2,140.66 350.4,141.13 350.6,141.71 350.8,142.34 351,142.97 351.2,143.56 351.4,144.03 351.6,144.42 351.8,145.41 352,145.35 352.2,144.87 352.4,144.1 352.6,143.1 352.8,141.95 353,140.77 353.2,139.67 353.4,138.76 353.6,138.13 353.8,137.86 354,137.98 354.2,138.51 354.4,139.39 354.6,140.57 354.8,141.92 355,143.34 355.2,144.68 355.4,145.81 355.6,146.62 355.8,147.02 356,146.97 356.2,146.45 356.4,145.51 356.6,144.22 356.8,142.7 357,141.09 357.2,139.53 357.4,138.19 357.6,137.18 357.8,136.62 358,136.57 358.2,137.04 358.4,138 358.6,139.36 358.8,141 359,142.77 359.2,144.49 359.4,146 359.6,147.15 359.8,147.83 360,147.98 360.2,147.57 360.4,146.64 360.6,145.3 360.8,143.65 361,141.88 361.2,140.13 361.4,138.58 361.6,137.37 361.8,136.62 362,136.39 362.2,136.69 362.4,137.5 362.6,138.72 362.8,140.23 363,141.89 363.2,143.53 363.4,144.99 363.6,146.12 363.8,146.84 364,147.09 364.2,146.77 364.4,146.05 364.6,144.92 364.8,143.65 365,142.48 365.2,141.56 365.4,140.89 365.6,140.45 365.8,140.18 366,140.12 366.2,140.18 366.4,140.41 366.6,140.78 366.8,141.24 367,141.76 367.2,142.3 367.4,142.81 367.6,143.24 367.8,143.57 368,143.76 368.2,143.8 368.4,143.68 368.6,143.42 368.8,143.03 369,142.56 369.2,142.03 369.4,141.51 369.6,141.02 369.8,140.63 370,140.36 370.2,140.25 370.4,140.31 370.6,140.53 370.8,140.91 371,141.42 371.2,142.02 371.4,142.69 371.6,143.72 371.8,144.65 372,145.31 372.2,145.67 372.4,145.64 372.6,145.27 372.8,144.59 373,143.65 373.2,142.54 373.4,141.37 373.6,140.25 373.8,139.3 374,138.6 374.2,138.21 374.4,138.19 374.6,138.55 374.8,139.23 375,140.19 375.2,141.34 375.4,142.56 375.6,143.75 375.8,144.78 376,145.58 376.2,146.05 376.4,146.15 376.6,145.88 376.8,145.25 377,144.32 377.2,143.18 377.4,141.94 377.6,140.71 377.8,139.61 378,138.73 378.2,138.17 378.4,137.97 378.6,138.16 378.8,138.72 379,139.59 379.2,140.7 379.4,141.94 379.6,143.2 379.8,144.36 380,145.3 380.2,145.96 380.4,146.25 380.6,146.15 380.8,145.68 381,144.87 381.2,143.81 381.4,142.58 381.6,141.31 381.8,140.11 382,139.09 382.2,138.36 382.4,137.97 382.6,137.97 382.8,138.35 383,139.08 383.2,140.1 383.4,141.3 383.6,142.58 383.8,143.81 384,144.89 384.2,145.71 384.4,146.19 384.6,146.28 384.8,145.99 385,145.34 385.2,144.38 385.4,143.21 385.6,141.94 385.8,140.68 386,139.55 386.2,138.66 386.4,138.09 386.6,137.89 386.8,138.08 387,138.65 387.2,139.55 387.4,140.68 387.6,141.94 387.8,143.22 388,144.39 388.2,145.35 388.4,146.01 388.6,146.3 388.8,146.21 389,145.73 389.2,144.91 389.4,143.83 389.6,142.58 389.8,141.3 390,140.09 390.2,139.06 390.4,138.32 390.6,137.94 390.8,137.94 391,138.33 391.2,139.07 391.4,140.09 391.6,141.3 391.8,142.58 392,143.82 392.2,144.9 392.4,145.71 392.6,146.19 392.8,146.28 393,145.99 393.2,145.33 393.4,144.38 393.6,143.21 393.8,141.94 394,140.69 394.2,139.57 394.4,138.69 394.6,138.13 394.8,137.94 395,138.14 395.2,138.71 395.4,139.59 395.6,140.7 395.8,141.94 396,143.19 396.2,144.33 396.4,145.27 396.6,145.89 396.8,146.17 397,146.06 397.2,145.58 397.4,144.79 397.6,143.75 397.8,142.56 398,141.34 398.2,140.21 398.4,139.27 398.6,138.6 398.8,138.28 399,138.31 399.2,138.74 399.4,139.47 399.6,140.42 399.8,141.48 400,142.45 400.2,143.29 400.4,143.98 400.6,144.49 400.8,144.77 401,144.79 401.2,144.59 401.4,144.16 401.6,143.54 401.8,142.8 402,142 402.2,141.22 402.4,140.52 402.6,139.98 402.8,139.63 403,139.52 403.2,139.65 403.4,140 403.6,140.55 403.8,141.24 404,142 404.2,142.78 404.4,143.49 404.6,144.06 404.8,144.46 405,144.63 405.2,144.57 405.4,144.28 405.6,143.79 405.8,143.14 406,142.39 406.2,141.62 406.4,140.88 406.6,140.26 406.8,139.81 407,139.58 407.2,139.57 407.4,139.8 407.6,140.25 407.8,140.87 408,141.61 408.2,142.4 408.4,143.16 408.6,143.83 408.8,144.35 409,144.66 409.2,144.74 409.4,144.57 409.6,144.16 409.8,143.56 410,142.82 410.2,142 410.4,141.17 410.6,140.41 410.8,139.79 411,139.38 411.2,139.19 411.4,139.27 411.6,139.63 411.8,140.23 412,141.03 412.2,141.98 412.4,142.98 412.6,143.96 412.8,144.81 413,145.45 413.2,145.79 413.4,145.79 413.6,145.42 413.8,144.71 414,143.74 414.2,142.57 414.4,141.32 414.6,140.1 414.8,139.04 415,138.25 415.2,137.79 415.4,137.73 415.6,138.08 415.8,138.83 416,139.9 416.2,141.21 416.4,142.64 416.6,144.04 416.8,145.29 417,146.26 417.2,146.85 417.4,147 417.6,146.68 417.8,145.94 418,144.82 418.2,143.43 418.4,141.91 418.6,140.39 418.8,139.03 419,137.95 419.2,137.25 419.4,137 419.6,137.23 419.8,137.92 420,139 420.2,140.37 420.4,141.9 420.6,143.46 420.8,144.88 421,146.05 421.2,146.84 421.4,147.2 421.6,147.07 421.8,146.48 422,145.48 422.2,144.18 422.4,142.68 422.6,141.14 422.8,139.7 423,138.5 423.2,137.65 423.4,137.23 423.6,137.27 423.8,137.77 424,138.66 424.2,139.84 424.4,141.21 424.6,142.63 424.8,143.94 425,145.04 425.2,145.83 425.4,146.24 425.6,146.25" fill="none" stroke="#333" stroke-width="0.8" stroke-linejoin="round"/>
<polyline points="33.6,434.52 33.8,435.84 34,437.32 34.2,438.82 34.4,440.22 34.6,441.38 34.8,442.2 35,442.6 35.2,442.54 35.4,442.04 35.6,441.13 35.8,439.9 36,438.46 36.2,436.93 36.4,435.47 36.6,434.2 36.8,433.23 37,432.66 37.2,432.55 37.4,432.89 37.6,433.66 37.8,434.79 38,436.18 38.2,437.7 38.4,439.21 38.6,440.58 38.8,441.68 39,442.4 39.2,442.69 39.4,442.52 39.6,441.9 39.8,440.89 40,439.58 40.2,438.08 40.4,436.54 40.6,435.1 40.8,433.89 41,433.01 41.2,432.55 41.4,432.55 41.6,433.01 41.8,433.89 42,435.11 42.2,436.55 42.4,438.08 42.6,439.57 42.8,440.88 43,441.89 43.2,442.51 43.4,442.68 43.6,442.38 43.8,441.65 44,440.55 44.2,439.19 44.4,437.7 44.6,436.19 44.8,434.83 45,433.72 45.2,432.98 45.4,432.67 45.6,432.81 45.8,433.39 46,434.33 46.2,435.57 46.4,436.97 46.6,438.4 46.8,439.72 47,440.81 47.2,441.55 47.4,441.92 47.6,441.87 47.8,441.42 48,440.65 48.2,439.65 48.4,438.52 48.6,437.39 48.8,436.34 49,435.45 49.2,434.83 49.4,434.89 49.6,434.91 49.8,435.08 50,435.46 50.2,436.03 50.4,436.71 50.6,437.46 50.8,438.21 51,438.89 51.2,439.45 51.4,439.83 51.6,440.01 51.8,439.97 52,439.72 52.2,439.28 52.4,438.69 52.6,438 52.8,437.29 53,436.6 53.2,436.01 53.4,435.56 53.6,435.3 53.8,435.26 54,435.42 54.2,435.78 54.4,436.31 54.6,436.95 54.8,437.64 55,438.33 55.2,438.96 55.4,439.45 55.6,439.78 55.8,439.91 56,439.83 56.2,439.54 56.4,439.08 56.6,438.49 56.8,437.82 57,437.13 57.2,436.48 57.4,435.93 57.6,435.54 57.8,435.34 58,435.34 58.2,435.55 58.4,435.94 58.6,436.49 58.8,437.13 59,437.82 59.2,438.48 59.4,439.07 59.6,439.52 59.8,439.79 60,439.87 60.2,439.74 60.4,439.42 60.6,438.93 60.8,438.32 61,437.64 61.2,436.96 61.4,436.34 61.6,435.84 61.8,435.49 62,435.34 62.2,435.39 62.4,435.65 62.6,436.08 62.8,436.65 63,437.3 63.2,437.98 63.4,438.63 63.6,439.19 63.8,439.6 64,439.83 64.2,439.85 64.4,439.67 64.6,439.31 64.8,438.78 65,438.15 65.2,437.47 65.4,436.8 65.6,436.2 65.8,435.73 66,435.43 66.2,435.33 66.4,435.43 66.6,435.73 66.8,436.2 67,436.8 67.2,437.47 67.4,438.15 67.6,438.79 67.8,439.32 68,439.69 68.2,439.87 68.4,439.85 68.6,439.62 68.8,439.21 69,438.65 69.2,437.99 69.4,437.3 69.6,436.63 69.8,436.05 70,435.61 70.2,435.35 70.4,435.29 70.6,435.45 70.8,435.8 71,436.32 71.2,436.95 71.4,437.64 71.6,438.34 71.8,438.97 72,439.48 72.2,439.82 72.4,439.95 72.6,439.88 72.8,439.6 73,439.13 73.2,438.52 73.4,437.83 73.6,437.11 73.8,436.43 74,435.86 74.2,435.43 74.4,435.2 74.6,435.18 74.8,435.39 75,435.8 75.2,436.38 75.4,437.08 75.6,437.84 75.8,438.6 76,439.29 76.2,439.84 76.4,440.21 76.6,440.45 76.8,440.79 77,440.4 77.2,439.67 77.4,438.73 77.6,437.67 77.8,436.58 78,435.58 78.2,434.75 78.4,434.17 78.6,433.91 78.8,433.97 79,434.37 79.2,435.06 79.4,435.99 79.6,437.09 79.8,438.27 80,439.42 80.2,440.47 80.4,441.29 80.6,441.82 80.8,441.98 81,441.74 81.2,441.1 81.4,440.1 81.6,438.8 81.8,437.31 82,435.76 82.2,434.29 82.4,433.05 82.6,432.17 82.8,431.76 83,431.87 83.2,432.52 83.4,433.69 83.6,435.3 83.8,437.22 84,439.29 84.2,441.32 84.4,443.12 84.6,444.5 84.8,445.3 85,445.41 85.2,444.78 85.4,443.44 85.6,441.48 85.8,439.07 86,436.43 86.2,433.8 86.4,431.45 86.6,429.61 86.8,428.46 87,428.13 87.2,428.7 87.4,430.1 87.6,432.21 87.8,434.85 88,437.79 88.2,440.74 88.4,443.43 88.6,445.61 88.8,447.07 89,447.67 89.2,447.35 89.4,446.14 89.6,444.13 89.8,441.53 90,438.56 90.2,435.5 90.4,432.62 90.6,430.19 90.8,428.44 91,427.52 91.2,427.52 91.4,428.44 91.6,430.19 91.8,432.61 92,435.49 92.2,438.56 92.4,441.54 92.6,444.15 92.8,446.17 93,447.4 93.2,447.73 93.4,447.14 93.6,445.68 93.8,443.49 94,440.78 94.2,437.79 94.4,434.8 94.6,432.07 94.8,429.86 95,428.37 95.2,427.72 95.4,427.97 95.6,429.09 95.8,430.98 96,433.46 96.2,436.31 96.4,439.25 96.6,442.04 96.8,444.4 97,446.14 97.2,447.09 97.4,447.17 97.6,446.39 97.8,444.82 98,442.6 98.2,439.93 98.4,437.06 98.6,434.25 98.8,431.75 99,429.79 99.2,428.53 99.4,428.1 99.6,428.53 99.8,429.79 100,431.76 100.2,434.25 100.4,437.06 100.6,439.93 100.8,442.62 101,444.87 101.2,446.49 101.4,447.32 101.6,447.26 101.8,446.34 102,444.61 102.2,442.2 102.4,439.33 102.6,436.24 102.8,433.21 103,430.52 103.2,428.43 103.4,427.14 103.6,426.8 103.8,427.46 104,429.06 104.2,431.47 104.4,434.47 104.6,437.81 104.8,441.18 105,444.28 105.2,446.82 105.4,448.55 105.6,449.29 105.8,448.96 106,447.58 106.2,445.25 106.4,442.21 106.6,438.73 106.8,435.14 107,431.78 107.2,428.97 107.4,426.97 107.6,425.93 107.8,425.98 108,427.08 108.2,429.12 108.4,431.92 108.6,435.22 108.8,438.68 109,442.01 109.2,444.89 109.4,447.06 109.6,448.33 109.8,448.6 110,447.84 110.2,446.19 110.4,443.79 110.6,440.89 110.8,437.79 111,434.8 111.2,432.24 111.4,430.32 111.6,429.2 111.8,429.03 112,429.65 112.2,430.97 112.4,432.78 112.6,434.79 112.8,436.79 113,438.55 113.2,439.93 113.4,440.86 113.6,441.32 113.8,441.44 114,441.18 114.2,440.76 114.4,440.1 114.6,439.33 114.8,438.42 115,437.4 115.2,436.27 115.4,435.1 115.6,434 115.8,433.12 116,432.6 116.2,432.48 116.4,432.89 116.6,433.81 116.8,435.28 117,437.2 117.2,439.44 117.4,441.78 117.6,443.97 117.8,445.76 118,446.87 118.2,447.15 118.4,446.51 118.6,444.9 118.8,442.48 119,439.46 119.2,436.12 119.4,432.8 119.6,429.8 119.8,427.47 120,426.01 120.2,425.6 120.4,426.3 120.6,428.07 120.8,430.74 121,434.1 121.2,437.84 121.4,441.6 121.6,445.05 121.8,447.85 122,449.73 122.2,450.52 122.4,450.13 122.6,448.58 122.8,446.02 123,442.67 123.2,438.84 123.4,434.89 123.6,431.17 123.8,428.05 124,425.81 124.2,424.67 124.4,424.72 124.6,425.94 124.8,428.23 125,431.34 125.2,434.98 125.4,438.78 125.6,442.39 125.8,445.45 126,447.72 126.2,448.93 126.4,449.07 126.6,448.12 126.8,446.24 127,443.7 127.2,440.77 127.4,437.78 127.6,435.01 127.8,432.71 128,431.03 128.2,430.06 128.4,429.85 128.6,430.29 128.8,431.34 129,432.89 129.2,434.72 129.4,436.72 129.6,438.7 129.8,440.49 130,441.96 130.2,442.97 130.4,443.48 130.6,443.45 130.8,442.89 131,441.89 131.2,440.53 131.4,438.95 131.6,437.29 131.8,435.7 132,434.32 132.2,433.27 132.4,432.64 132.6,432.47 132.8,432.77 133,433.49 133.2,434.56 133.4,435.88 133.6,437.33 133.8,438.76 134,440.07 134.2,441.13 134.4,441.85 134.6,442.18 134.8,442.09 135,441.6 135.2,440.76 135.4,439.64 135.6,438.35 135.8,437.02 136,435.76 136.2,434.68 136.4,433.88 136.6,433.43 136.8,433.37 137,433.69 137.2,434.36 137.4,435.31 137.6,436.45 137.8,437.68 138,438.86 138.2,439.9 138.4,440.69 138.6,441.16 138.8,441.27 139,441.03 139.2,440.48 139.4,439.73 139.6,438.84 139.8,437.9 140,436.96 140.2,436.12 140.4,435.43 140.6,434.94 140.8,434.7 141,434.73 141.2,435.01 141.4,435.51 141.6,436.2 141.8,437.01 142,437.87 142.2,438.69 142.4,439.41 142.6,439.96 142.8,440.3 143,440.39 143.2,440.22 143.4,439.82 143.6,439.22 143.8,438.47 144,437.65 144.2,436.83 144.4,436.08 144.6,435.47 144.8,435.05 145,434.87 145.2,434.93 145.4,435.24 145.6,435.76 145.8,436.45 146,437.24 146.2,438.06 146.4,438.85 146.6,439.52 146.8,440.01 147,440.29 147.2,440.32 147.4,440.11 147.6,439.67 147.8,439.04 148,438.27 148.2,437.44 148.4,436.62 148.6,435.89 148.8,435.3 149,434.91 149.2,434.77 149.4,434.88 149.6,435.24 149.8,435.83 150,436.58 150.2,437.43 150.4,438.33 150.6,439.2 150.8,440.08 151,441.2 151.2,441.66 151.4,441.71 151.6,441.37 151.8,440.63 152,439.58 152.2,438.34 152.4,437.02 152.6,435.73 152.8,434.59 153,433.72 153.2,433.21 153.4,433.1 153.6,433.39 153.8,434.08 154,435.08 154.2,436.32 154.4,437.69 154.6,439.05 154.8,440.28 155,441.27 155.2,441.93 155.4,442.2 155.6,442.05 155.8,441.49 156,440.57 156.2,439.39 156.4,438.04 156.6,436.64 156.8,435.34 157,434.24 157.2,433.44 157.4,433.02 157.6,433.02 157.8,433.43 158,434.23 158.2,435.33 158.4,436.64 158.6,438.04 158.8,439.4 159,440.6 159.2,441.52 159.4,442.09 159.6,442.25 159.8,441.98 160,441.32 160.2,440.32 160.4,439.07 160.6,437.69 160.8,436.3 161,435.03 161.2,433.99 161.4,433.28 161.6,432.96 161.8,433.07 162,433.59 162.2,434.47 162.4,435.64 162.6,436.99 162.8,438.39 163,439.72 163.2,440.86 163.4,441.7 163.6,442.16 163.8,442.22 164,441.85 164.2,441.1 164.4,440.02 164.6,438.73 164.8,437.34 165,435.97 165.2,434.74 165.4,433.78 165.6,433.17 165.8,432.96 166,433.17 166.2,433.78 166.4,434.75 166.6,435.97 166.8,437.34 167,438.73 167.2,440.02 167.4,441.09 167.6,441.85 167.8,442.21 168,442.16 168.2,441.69 168.4,440.85 168.6,439.72 168.8,438.39 169,436.99 169.2,435.64 169.4,434.47 169.6,433.59 169.8,433.07 170,432.96 170.2,433.27 170.4,433.98 170.6,435.01 170.8,436.29 171,437.69 171.2,439.08 171.4,440.34 171.6,441.35 171.8,442.03 172,442.3 172.2,442.15 172.4,441.59 172.6,440.65 172.8,439.44 173,438.05 173.2,436.61 173.4,435.26 173.6,434.1 173.8,433.24 174,432.77 174.2,432.74 174.4,433.12 174.6,433.92 174.8,435.06 175,436.51 175.2,438.11 175.4,439.69 175.6,441.1 175.8,442.21 176,442.91 176.2,443.12 176.4,442.82 176.6,442.05 176.8,440.87 177,439.37 177.2,437.71 177.4,436.02 177.6,434.46 177.8,433.18 178,432.3 178.2,431.89 178.4,432.01 178.6,432.63 178.8,433.71 179,435.16 179.2,436.83 179.4,438.59 179.6,440.26 179.8,441.71 180,442.78 180.2,443.39 180.4,443.48 180.6,443.02 180.8,442.07 181,440.71 181.2,439.06 181.4,437.26 181.6,435.49 181.8,433.9 182,432.64 182.2,431.83 182.4,431.54 182.6,431.8 182.8,432.6 183,433.85 183.2,435.45 183.4,437.25 183.6,439.09 183.8,440.81 184,442.23 184.2,443.24 184.4,443.73 184.6,443.67 184.8,443.06 185,441.94 185.2,440.43 185.4,438.65 185.6,436.78 185.8,434.98 186,433.41 186.2,432.22 186.4,431.52 186.6,431.38 186.8,431.8 187,432.75 187.2,434.14 187.4,435.85 187.6,437.72 187.8,439.58 188,441.25 188.2,442.6 188.4,443.48 188.6,443.83 188.8,443.61 189,442.84 189.2,441.6 189.4,440 189.6,438.18 189.8,436.33 190,434.6 190.2,433.15 190.4,432.12 190.6,431.61 190.8,431.64 191,432.21 191.2,433.29 191.4,434.73 191.6,436.4 191.8,438.14 192,439.74 192.2,441.05 192.4,441.96 192.6,442.42 192.8,442.43 193,442.05 193.2,441.29 193.4,440.26 193.6,439.02 193.8,437.68 194,436.37 194.2,435.18 194.4,434.22 194.6,433.57 194.8,433.3 195,433.42 195.2,433.91 195.4,434.73 195.6,435.81 195.8,437.04 196,438.32 196.2,439.52 196.4,440.54 196.6,441.29 196.8,441.7 197,441.74 197.2,441.41 197.4,440.73 197.6,439.77 197.8,438.61 198,437.37 198.2,436.14 198.4,435.05 198.6,434.2 198.8,433.65 199,433.46 199.2,433.64 199.4,434.19 199.6,435.05 199.8,436.14 200,437.36 200.2,438.62 200.4,439.79 200.6,440.77 200.8,441.46 201,441.81 201.2,441.79 201.4,441.39 201.6,440.64 201.8,439.59 202,438.35 202.2,437.01 202.4,435.68 202.6,434.49 202.8,433.5 203,432.82 203.2,432.43 203.4,432.34 203.6,432.78 203.8,433.93 204,435.64 204.2,437.74 204.4,440.01 204.6,442.24 204.8,444.19 205,445.66 205.2,446.46 205.4,446.47 205.6,445.61 205.8,443.94 206,441.54 206.2,438.59 206.4,435.35 206.6,432.1 206.8,429.16 207,426.82 207.2,425.34 207.4,424.95 207.6,425.71 207.8,427.64 208,430.67 208.2,434.57 208.4,439.04 208.6,443.69 208.8,448.08 209,451.78 209.2,454.37 209.4,455.51 209.6,455.01 209.8,452.8 210,449.03 210.2,443.94 210.4,437.99 210.6,431.71 210.8,425.7 211,420.6 211.2,416.88 211.4,414.97 211.6,415.16 211.8,417.43 212,421.65 212.2,427.47 212.4,434.39 212.6,441.77 212.8,448.95 213,455.23 213.2,460 213.4,462.82 213.6,463.33 213.8,461.47 214,457.38 214.2,451.42 214.4,444.09 214.6,436.08 214.8,428.13 215,420.99 215.2,415.35 215.4,411.7 215.6,410.4 215.8,411.66 216,415.27 216.2,420.91 216.4,428.07 216.6,436.07 216.8,444.15 217,451.57 217.2,457.64 217.4,461.81 217.6,463.74 217.8,463.27 218,460.46 218.2,455.62 218.4,449.23 218.6,441.89 218.8,434.29 219,427.12 219.2,421.03 219.4,416.56 219.6,414.07 219.8,413.75 220,415.61 220.2,419.42 220.4,424.78 220.6,431.19 220.8,438.03 221,444.65 221.2,450.46 221.4,454.95 221.6,457.74 221.8,458.63 222,457.6 222.2,454.79 222.4,450.53 222.6,445.24 222.8,439.43 223,433.66 223.2,428.42 223.4,424.19 223.6,421.3 223.8,419.96 224,420.24 224.2,422.07 224.4,425.24 224.6,429.41 224.8,434.19 225,439.14 225.2,443.8 225.4,447.78 225.6,450.72 225.8,452.4 226,452.71 226.2,451.65 226.4,449.36 226.6,446.07 226.8,442.12 227,437.87 227.2,433.71 227.4,430.03 227.6,427.13 227.8,425.26 228,424.55 228.2,425.04 228.4,426.65 228.6,429.19 228.8,432.42 229,436 229.2,439.61 229.4,442.91 229.6,445.6 229.8,447.46 230,448.37 230.2,448.27 230.4,447.24 230.6,445.39 230.8,442.91 231,440.04 231.2,437.04 231.4,434.16 231.6,431.64 231.8,429.71 232,428.53 232.2,428.15 232.4,428.63 232.6,429.92 232.8,431.88 233,434.34 233.2,437.08 233.4,439.84 233.6,442.39 233.8,444.5 234,445.98 234.2,446.69 234.4,446.58 234.6,445.65 234.8,443.99 235,441.76 235.2,439.15 235.4,436.4 235.6,433.75 235.8,431.46 236,429.73 236.2,428.71 236.4,428.51 236.6,429.13 236.8,430.52 237,432.55 237.2,435.05 237.4,437.77 237.6,440.48 237.8,442.92 238,444.88 238.2,446.18 238.4,446.7 238.6,446.39 238.8,445.29 239,443.48 239.2,441.13 239.4,438.46 239.6,435.71 239.8,433.11 240,430.92 240.2,429.33 240.4,428.48 240.6,428.47 240.8,429.28 241,430.86 241.2,433.06 241.4,435.68 241.6,438.48 241.8,441.21 242,443.62 242.2,445.49 242.4,446.64 242.6,446.96 242.8,446.44 243,445.11 243.2,443.08 243.4,440.56 243.6,437.78 243.8,434.99 244,432.45 244.2,430.4 244.4,429.05 244.6,428.49 244.8,428.77 245,429.83 245.2,431.68 245.4,433.97 245.6,436.49 245.8,438.95 246,441.03 246.2,442.32 246.4,442.68 246.6,442.42 246.8,441.96 247,441.26 247.2,440.47 247.4,439.5 247.6,438.45 247.8,437.41 248,436.44 248.2,435.61 248.4,434.99 248.6,434.59 248.8,434.46 249,434.62 249.2,435.02 249.4,435.66 249.6,436.47 249.8,437.42 250,438.4 250.2,439.38 250.4,440.25 250.6,440.96 250.8,441.43 251,441.59 251.2,441.38 251.4,440.76 251.6,439.76 251.8,438.44 252,436.92 252.2,435.34 252.4,433.86 252.6,432.67 252.8,431.9 253,431.62 253.2,431.92 253.4,432.76 253.6,434.09 253.8,435.79 254,437.72 254.2,439.71 254.4,441.55 254.6,443.09 254.8,444.15 255,444.64 255.2,444.48 255.4,443.68 255.6,442.3 255.8,440.45 256,438.3 256.2,436.05 256.4,433.89 256.6,432.04 256.8,430.67 257,429.92 257.2,429.87 257.4,430.53 257.6,431.85 257.8,433.71 258,435.95 258.2,438.36 258.4,440.72 258.6,442.81 258.8,444.44 259,445.46 259.2,445.76 259.4,445.31 259.6,444.16 259.8,442.4 260,440.2 260.2,437.76 260.4,435.29 260.6,433.02 260.8,431.17 261,429.91 261.2,429.34 261.4,429.52 261.6,430.44 261.8,432.01 262,434.1 262.2,436.5 262.4,439.01 262.6,441.38 262.8,443.41 263,444.91 263.2,445.74 263.4,445.83 263.6,445.17 263.8,443.82 264,441.91 264.2,439.61 264.4,437.13 264.6,434.71 264.8,432.55 265,430.86 265.2,429.79 265.4,429.44 265.6,429.82 265.8,430.92 266,432.61 266.2,434.75 266.4,437.14 266.6,439.56 266.8,441.78 267,443.62 267.2,444.88 267.4,445.48 267.6,445.36 267.8,444.53 268,443.07 268.2,441.14 268.4,438.91 268.6,436.59 268.8,434.4 269,432.54 269.2,431.18 269.4,430.43 269.6,430.38 269.8,430.99 270,432.16 270.2,433.86 270.4,435.78 270.6,437.71 270.8,439.27 271,440.2 271.2,440.72 271.4,440.9 271.6,440.92 271.8,440.65 272,440.13 272.2,439.5 272.4,438.72 272.6,437.87 272.8,437.03 273,436.26 273.2,435.63 273.4,435.18 273.6,434.96 273.8,434.98 274,435.24 274.2,435.7 274.4,436.32 274.6,437.06 274.8,437.85 275,438.61 275.2,439.28 275.4,439.79 275.6,440.12 275.8,440.22 276,440.08 276.2,439.71 276.4,439.15 276.6,438.44 276.8,437.65 277,436.85 277.2,436.1 277.4,435.49 277.6,435.06 277.8,434.85 278,434.9 278.2,435.19 278.4,435.7 278.6,436.4 278.8,437.22 279,438.09 279.2,438.95 279.4,439.71 279.6,440.3 279.8,440.73 280,440.9 280.2,440.83 280.4,440.42 280.6,439.66 280.8,438.59 281,437.36 281.2,436.09 281.4,434.93 281.6,433.99 281.8,433.36 282,433.1 282.2,433.28 282.4,433.86 282.6,434.78 282.8,435.98 283,437.34 283.2,438.73 283.4,440.04 283.6,441.13 283.8,441.91 284,442.3 284.2,442.26 284.4,441.8 284.6,440.95 284.8,439.79 285,438.42 285.2,436.96 285.4,435.56 285.6,434.34 285.8,433.41 286,432.85 286.2,432.73 286.4,433.05 286.6,433.79 286.8,434.88 287,436.22 287.2,437.69 287.4,439.16 287.6,440.5 287.8,441.57 288,442.29 288.2,442.58 288.4,442.41 288.6,441.81 288.8,440.82 289,439.54 289.2,438.07 289.4,436.56 289.6,435.14 289.8,433.94 290,433.07 290.2,432.61 290.4,432.6 290.6,433.05 290.8,433.92 291,435.12 291.2,436.55 291.4,438.08 291.6,439.57 291.8,440.88 292,441.9 292.2,442.52 292.4,442.69 292.6,442.4 292.8,441.68 293,440.58 293.2,439.21 293.4,437.7 293.6,436.17 293.8,434.78 294,433.66 294.2,432.89 294.4,432.56 294.6,432.68 294.8,433.25 295,434.21 295.2,435.48 295.4,436.94 295.6,438.45 295.8,439.87 296,441.09 296.2,441.98 296.4,442.47 296.6,442.52 296.8,442.11 297,441.31 297.2,440.16 297.4,438.79 297.6,437.32 297.8,435.88 298,434.6 298.2,433.6 298.4,432.96 298.6,432.75 298.8,432.98 299,433.62 299.2,434.63 299.4,435.9 299.6,437.33 299.8,438.78 300,440.12 300.2,441.24 300.4,442.03 300.6,442.41 300.8,442.37 301,441.9 301.2,441.03 301.4,439.84 301.6,438.44 301.8,436.94 302,435.49 302.2,434.19 302.4,433.17 302.6,432.53 302.8,432.34 303,432.6 303.2,433.3 303.4,434.46 303.6,435.95 303.8,437.72 304,439.65 304.2,441.6 304.4,443.35 304.6,444.67 304.8,445.35 305,445.32 305.2,444.53 305.4,443.03 305.6,440.95 305.8,438.44 306,435.72 306.2,433.03 306.4,430.64 306.6,428.79 306.8,427.68 307,427.47 307.2,428.2 307.4,429.84 307.6,432.28 307.8,435.32 308,438.66 308.2,442.02 308.4,445.05 308.6,447.47 308.8,449.04 309,449.59 309.2,449.02 309.4,447.38 309.6,444.82 309.8,441.54 310,437.84 310.2,434.05 310.4,430.53 310.6,427.61 310.8,425.55 311,424.58 311.2,424.79 311.4,426.19 311.6,428.64 311.8,431.95 312,435.82 312.2,439.9 312.4,443.8 312.6,447.18 312.8,449.72 313,451.18 313.2,451.38 313.4,450.33 313.6,448.11 313.8,444.91 314,441.03 314.2,436.8 314.4,432.63 314.6,428.9 314.8,425.95 315,424.05 315.2,423.41 315.4,424.07 315.6,425.95 315.8,428.89 316,432.63 316.2,436.8 316.4,441.02 316.6,444.9 316.8,448.08 317,450.27 317.2,451.29 317.4,451.06 317.6,449.61 317.8,447.08 318,443.72 318.2,439.86 318.4,435.85 318.6,432.05 318.8,428.81 319,426.42 319.2,425.07 319.4,424.86 319.6,425.82 319.8,427.82 320,430.68 320.2,434.12 320.4,437.83 320.6,441.47 320.8,444.72 321,447.27 321.2,448.92 321.4,449.51 321.6,449.03 321.8,447.51 322,445.12 322.2,442.08 322.4,438.69 322.6,435.24 322.8,432.07 323,429.45 323.2,427.61 323.4,426.71 323.6,426.82 323.8,427.9 324,429.84 324.2,432.44 324.4,435.44 324.6,438.57 324.8,441.53 325,444.04 325.2,445.85 325.4,446.83 325.6,446.93 325.8,446.08 326,444.53 326.2,442.43 326.4,440.09 326.6,437.74 326.8,435.6 327,433.79 327.2,432.45 327.4,431.62 327.6,431.33 327.8,431.61 328,432.42 328.2,433.62 328.4,435.14 328.6,436.84 328.8,438.56 329,440.15 329.2,441.49 329.4,442.45 329.6,442.95 329.8,442.96 330,442.51 330.2,441.61 330.4,440.37 330.6,438.88 330.8,437.3 331,435.76 331.2,434.4 331.4,433.33 331.6,432.66 331.8,432.44 332,432.69 332.2,433.38 332.4,434.45 332.6,435.8 332.8,437.31 333,438.84 333.2,440.25 333.4,441.42 333.6,442.23 333.8,442.62 334,442.55 334.2,442.04 334.4,441.12 334.6,439.89 334.8,438.45 335,436.94 335.2,435.49 335.4,434.24 335.6,433.29 335.8,432.74 336,432.63 336.2,432.97 336.4,433.73 336.6,434.84 336.8,436.21 337,437.69 337.2,439.17 337.4,440.51 337.6,441.58 337.8,442.3 338,442.58 338.2,442.42 338.4,441.81 338.6,440.82 338.8,439.54 339,438.07 339.2,436.57 339.4,435.15 339.6,433.96 339.8,433.09 340,432.64 340.2,432.63 340.4,433.08 340.6,433.94 340.8,435.13 341,436.56 341.2,438.08 341.4,439.56 341.6,440.86 341.8,441.87 342,442.5 342.2,442.68 342.4,442.39 342.6,441.67 342.8,440.58 343,439.21 343.2,437.7 343.4,436.17 343.6,434.77 343.8,433.63 344,432.84 344.2,432.49 344.4,432.61 344.6,433.17 344.8,434.15 345,435.43 345.2,436.92 345.4,438.47 345.6,439.95 345.8,441.2 346,442.14 346.2,442.65 346.4,442.71 346.6,442.3 346.8,441.47 347,440.28 347.2,438.85 347.4,437.31 347.6,435.79 347.8,434.44 348,433.38 348.2,432.71 348.4,432.49 348.6,432.73 348.8,433.42 349,434.48 349.2,435.82 349.4,437.31 349.6,438.82 349.8,440.22 350,441.36 350.2,442.13 350.4,442.47 350.6,442.37 350.8,441.84 351,440.94 351.2,439.75 351.4,438.38 351.6,437.01 351.8,435.75 352,434.76 352.2,434.17 352.4,434.07 352.6,434.48 352.8,435.04 353,435.66 353.2,436.33 353.4,437.03 353.6,437.63 353.8,438.07 354,438.39 354.2,438.62 354.4,438.75 354.6,438.78 354.8,438.7 355,438.53 355.2,438.3 355.4,438.01 355.6,437.7 355.8,437.39 356,437.1 356.2,436.88 356.4,436.71 356.6,436.63 356.8,436.64 357,436.74 357.2,436.91 357.4,437.14 357.6,437.41 357.8,437.69 358,437.96 358.2,438.19 358.4,438.37 358.6,438.48 358.8,438.51 359,438.45 359.2,438.32 359.4,438.12 359.6,437.88 359.8,437.62 360,437.35 360.2,437.1 360.4,436.9 360.6,436.76 360.8,436.7 361,436.72 361.2,436.82 361.4,436.99 361.6,437.21 361.8,437.48 362,437.76 362.2,438.03 362.4,438.27 362.6,438.45 362.8,438.56 363,438.59 363.2,438.53 363.4,438.38 363.6,438.15 363.8,437.86 364,437.54 364.2,437.19 364.4,436.86 364.6,436.56 364.8,436.31 365,436.12 365.2,435.99 365.4,435.88 365.6,436.04 365.8,436.62 366,437.43 366.2,438.37 366.4,439.35 366.6,440.26 366.8,441.01 367,441.49 367.2,441.63 367.4,441.38 367.6,440.73 367.8,439.72 368,438.42 368.2,436.94 368.4,435.43 368.6,434.05 368.8,432.94 369,432.21 369.2,431.96 369.4,432.26 369.6,433.07 369.8,434.33 370,435.92 370.2,437.71 370.4,439.53 370.6,441.19 370.8,442.55 371,443.46 371.2,443.84 371.4,443.65 371.6,442.9 371.8,441.67 372,440.05 372.2,438.2 372.4,436.29 372.6,434.49 372.8,432.98 373,431.88 373.2,431.31 373.4,431.31 373.6,431.89 373.8,432.99 374,434.5 374.2,436.29 374.4,438.2 374.6,440.04 374.8,441.64 375,442.88 375.2,443.62 375.4,443.8 375.6,443.41 375.8,442.51 376,441.17 376.2,439.51 376.4,437.71 376.6,435.95 376.8,434.4 377,433.2 377.2,432.46 377.4,432.25 377.6,432.54 377.8,433.28 378,434.36 378.2,435.65 378.4,437.01 378.6,438.32 378.8,439.48 379,440.4 379.2,441.03 379.4,441.32 379.6,441.27 379.8,440.88 380,440.23 380.2,439.38 380.4,438.41 380.6,437.42 380.8,436.48 381,435.69 381.2,435.08 381.4,434.71 381.6,434.59 381.8,434.73 382,435.13 382.2,435.73 382.4,436.52 382.6,437.42 382.8,438.38 383,439.32 383.2,440.16 383.4,440.82 383.6,441.22 383.8,441.3 384,441.03 384.2,440.41 384.4,439.49 384.6,438.32 384.8,437.02 385,435.7 385.2,434.48 385.4,433.48 385.6,432.82 385.8,432.55 386,432.75 386.2,433.42 386.4,434.53 386.6,436 386.8,437.71 387,439.51 387.2,441.21 387.4,442.65 387.6,443.68 387.8,444.19 388,444.07 388.2,443.34 388.4,442.05 388.6,440.32 388.8,438.27 389,436.11 389.2,434.05 389.4,432.28 389.6,430.97 389.8,430.25 390,430.19 390.2,430.83 390.4,432.1 390.6,433.89 390.8,436.03 391,438.32 391.2,440.57 391.4,442.57 391.6,444.12 391.8,445.07 392,445.35 392.2,444.93 392.4,443.83 392.6,442.16 392.8,440.07 393,437.75 393.2,435.4 393.4,433.25 393.6,431.5 393.8,430.3 394,429.76 394.2,429.93 394.4,430.8 394.6,432.3 394.8,434.27 395,436.56 395.2,438.94 395.4,441.2 395.6,443.13 395.8,444.55 396,445.34 396.2,445.43 396.4,444.81 396.6,443.53 396.8,441.71 397,439.52 397.2,437.15 397.4,434.83 397.6,432.77 397.8,431.15 398,430.12 398.2,429.77 398.4,430.14 398.6,431.18 398.8,432.81 399,434.86 399.2,437.16 399.4,439.49 399.6,441.63 399.8,443.41 400,444.64 400.2,445.22 400.4,445.1 400.6,444.31 400.8,442.91 401,441.04 401.2,438.87 401.4,436.62 401.6,434.48 401.8,432.66 402,431.34 402.2,430.61 402.4,430.53 402.6,431.1 402.8,432.26 403,433.86 403.2,435.75 403.4,437.72 403.6,439.6 403.8,441.2 404,442.4 404.2,443.04 404.4,443.14 404.6,442.56 404.8,441.5 405,440.25 405.2,439.04 405.4,437.93 405.6,436.93 405.8,436.07 406,435.42 406.2,434.95 406.4,434.74 406.6,434.8 406.8,435.1 407,435.59 407.2,436.26 407.4,437.04 407.6,437.85 407.8,438.64 408,439.32 408.2,439.85 408.4,440.16 408.6,440.25 408.8,440.09 409,439.72 409.2,439.15 409.4,438.44 409.6,437.65 409.8,436.86 410,436.13 410.2,435.53 410.4,435.12 410.6,434.93 410.8,434.99 411,435.28 411.2,435.79 411.4,436.47 411.6,437.24 411.8,438.06 412,438.83 412.2,439.49 412.4,439.97 412.6,440.24 412.8,440.26 413,440.05 413.2,439.61 413.4,438.99 413.6,438.24 413.8,437.45 414,436.67 414.2,435.98 414.4,435.45 414.6,435.1 414.8,434.98 415,435.1 415.2,435.44 415.4,435.98 415.6,436.67 415.8,437.45 416,438.26 416.2,439.03 416.4,439.7 416.6,440.22 416.8,440.51 417,440.55 417.2,440.37 417.4,439.9 417.6,439.16 417.8,438.22 418,437.09 418.2,435.86 418.4,434.63 418.6,433.54 418.8,432.71 419,432.29 419.2,432.38 419.4,433.02 419.6,434.21 419.8,435.83 420,437.72 420.2,439.68 420.4,441.51 420.6,443.01 420.8,444.02 421,444.45 421.2,444.24 421.4,443.42 421.6,442.05 421.8,440.28 422,438.25 422.2,436.17 422.4,434.22 422.6,432.59 422.8,431.4" fill="none" stroke="#333" stroke-width="0.8" stroke-linejoin="round"/>
<line x1="213.3" y1="32.8" x2="227.14" y2="41.09" stroke="#000" stroke-width="2.6" stroke-linecap="round"/>
<polygon points="231,43.4 225.32,43.15 228.1,38.51" fill="#000"/>
<line x1="191.6" y1="328.1" x2="205.86" y2="336.85" stroke="#000" stroke-width="2.6" stroke-linecap="round"/>
<polygon points="209.7,339.2 204.03,338.89 206.85,334.28" fill="#000"/>
<text transform="translate(18.3 32.93) scale(1.0607 1)" font-family='"Liberation Sans", sans-serif' font-weight="normal" font-size="7.350" fill="#3a3a3a" stroke="#3a3a3a" stroke-width="0.22">300</text>
<text transform="translate(15.9 66.93) scale(1.0463 1)" font-family='"Liberation Sans", sans-serif' font-weight="normal" font-size="7.350" fill="#3a3a3a" stroke="#3a3a3a" stroke-width="0.22">-300</text>
<text transform="translate(23 133.72) scale(0.8991 1)" font-family='"Liberation Sans", sans-serif' font-weight="normal" font-size="8.198" fill="#3a3a3a" stroke="#3a3a3a" stroke-width="0.22">10</text>
<text transform="translate(19.9 156.13) scale(1.0439 1)" font-family='"Liberation Sans", sans-serif' font-weight="normal" font-size="7.491" fill="#3a3a3a" stroke="#3a3a3a" stroke-width="0.22">-10</text>
<text transform="translate(23 251.02) scale(0.9482 1)" font-family='"Liberation Sans", sans-serif' font-weight="normal" font-size="7.774" fill="#3a3a3a" stroke="#3a3a3a" stroke-width="0.22">10</text>
<text transform="translate(17.7 326.92) scale(0.9774 1)" font-family='"Liberation Sans", sans-serif' font-weight="normal" font-size="7.915" fill="#3a3a3a" stroke="#3a3a3a" stroke-width="0.22">600</text>
<text transform="translate(17.7 341.52) scale(0.9951 1)" font-family='"Liberation Sans", sans-serif' font-weight="normal" font-size="7.774" fill="#3a3a3a" stroke="#3a3a3a" stroke-width="0.22">300</text>
<text transform="translate(26 355.93) scale(1.1064 1)" font-family='"Liberation Sans", sans-serif' font-weight="normal" font-size="7.491" fill="#3a3a3a" stroke="#3a3a3a" stroke-width="0.22">0</text>
<text transform="translate(15 370.72) scale(0.9842 1)" font-family='"Liberation Sans", sans-serif' font-weight="normal" font-size="7.915" fill="#3a3a3a" stroke="#3a3a3a" stroke-width="0.22">-300</text>
<text transform="translate(22.1 429.32) scale(1.0060 1)" font-family='"Liberation Sans", sans-serif' font-weight="normal" font-size="7.774" fill="#3a3a3a" stroke="#3a3a3a" stroke-width="0.22">10</text>
<text transform="translate(19.3 452.02) scale(1.0427 1)" font-family='"Liberation Sans", sans-serif' font-weight="normal" font-size="7.633" fill="#3a3a3a" stroke="#3a3a3a" stroke-width="0.22">-10</text>
<text transform="translate(22.1 546.12) scale(1.0010 1)" font-family='"Liberation Sans", sans-serif' font-weight="normal" font-size="7.633" fill="#3a3a3a" stroke="#3a3a3a" stroke-width="0.22">10</text>
<ellipse cx="34.8" cy="87.1" rx="1.22" ry="1.95" fill="none" stroke="#151515" stroke-width="1.15"/>
<ellipse cx="34.65" cy="181.25" rx="1.22" ry="1.95" fill="none" stroke="#151515" stroke-width="1.15"/>
<ellipse cx="34.8" cy="276.5" rx="1.22" ry="1.95" fill="none" stroke="#151515" stroke-width="1.15"/>
<ellipse cx="35.45" cy="383.2" rx="1.22" ry="1.95" fill="none" stroke="#151515" stroke-width="1.15"/>
<ellipse cx="35.1" cy="476.65" rx="1.22" ry="1.95" fill="none" stroke="#151515" stroke-width="1.15"/>
<ellipse cx="35.45" cy="572.55" rx="1.22" ry="1.95" fill="none" stroke="#151515" stroke-width="1.15"/>
<text transform="translate(407.7 89.83) scale(1.0148 1)" font-family='"Liberation Sans", sans-serif' font-weight="normal" font-size="6.643" fill="#2a2a2a" stroke="#2a2a2a" stroke-width="0.22">1000</text>
<text transform="translate(407.7 186.93) scale(1.0148 1)" font-family='"Liberation Sans", sans-serif' font-weight="normal" font-size="6.643" fill="#2a2a2a" stroke="#2a2a2a" stroke-width="0.22">1000</text>
<text transform="translate(407.4 278.63) scale(1.0507 1)" font-family='"Liberation Sans", sans-serif' font-weight="normal" font-size="6.502" fill="#2a2a2a" stroke="#2a2a2a" stroke-width="0.22">1000</text>
<text transform="translate(408.6 385.83) scale(1.0148 1)" font-family='"Liberation Sans", sans-serif' font-weight="bold" font-size="6.643" fill="#1a1a1a" stroke="#1a1a1a" stroke-width="0.12">1000</text>
<text transform="translate(408.1 479.93) scale(0.9734 1)" font-family='"Liberation Sans", sans-serif' font-weight="bold" font-size="6.926" fill="#1a1a1a" stroke="#1a1a1a" stroke-width="0.12">1000</text>
<text transform="translate(407.1 573.83) scale(1.0369 1)" font-family='"Liberation Sans", sans-serif' font-weight="bold" font-size="6.502" fill="#1a1a1a" stroke="#1a1a1a" stroke-width="0.12">1000</text>
<text transform="translate(205.3 278.93) scale(0.9459 1)" font-family='"Liberation Sans", sans-serif' font-weight="bold" font-size="7.078" fill="#1a1a1a" stroke="#1a1a1a" stroke-width="0.12">Time (ms)</text>
<text transform="translate(211.4 574.41) scale(1.0866 1)" font-family='"Liberation Sans", sans-serif' font-weight="bold" font-size="6.220" fill="#1a1a1a" stroke="#1a1a1a" stroke-width="0.12">Time (ms)</text>
<text transform="translate(12 68.5) rotate(-90) scale(0.8274 1)" font-family='"Liberation Sans", sans-serif' font-weight="normal" font-size="8.582" fill="#3c3c3c" stroke="#3c3c3c" stroke-width="0.1">EEG</text>
<text transform="translate(12 30.28) rotate(-90)" font-family='"Liberation Sans", sans-serif' font-weight="normal" font-size="8.582" fill="#3c3c3c" stroke="#3c3c3c" stroke-width="0.1">)</text>
<text transform="translate(12 32.99) rotate(-90)" font-family='"Liberation Sans", sans-serif' font-weight="normal" font-size="8.582" fill="#3c3c3c" stroke="#3c3c3c" stroke-width="0.1">]</text>
<text transform="translate(12 39.16) rotate(-90)" font-family='"Liberation Sans", sans-serif' font-weight="normal" font-size="8.582" fill="#3c3c3c" stroke="#3c3c3c" stroke-width="0.1">V</text>
<text transform="translate(13 43.32) rotate(-90)" font-family='"Liberation Sans", sans-serif' font-weight="normal" font-size="6.694" fill="#3c3c3c" stroke="#3c3c3c" stroke-width="0.1">μ</text>
<text transform="translate(12 47.14) rotate(-90)" font-family='"Liberation Sans", sans-serif' font-weight="normal" font-size="8.582" fill="#3c3c3c" stroke="#3c3c3c" stroke-width="0.1">[</text>
<text transform="translate(12 50.48) rotate(-90)" font-family='"Liberation Sans", sans-serif' font-weight="normal" font-size="8.582" fill="#3c3c3c" stroke="#3c3c3c" stroke-width="0.1">(</text>
<text transform="translate(12 187.9) rotate(-90) scale(0.9649 1)" font-family='"Liberation Sans", sans-serif' font-weight="normal" font-size="8.582" fill="#3c3c3c" stroke="#3c3c3c" stroke-width="0.1">Ripple Band EEG</text>
<text transform="translate(12 100.38) rotate(-90)" font-family='"Liberation Sans", sans-serif' font-weight="normal" font-size="8.582" fill="#3c3c3c" stroke="#3c3c3c" stroke-width="0.1">)</text>
<text transform="translate(12 103.24) rotate(-90)" font-family='"Liberation Sans", sans-serif' font-weight="normal" font-size="8.582" fill="#3c3c3c" stroke="#3c3c3c" stroke-width="0.1">]</text>
<text transform="translate(12 109.16) rotate(-90)" font-family='"Liberation Sans", sans-serif' font-weight="normal" font-size="8.582" fill="#3c3c3c" stroke="#3c3c3c" stroke-width="0.1">V</text>
<text transform="translate(15.5 113.52) rotate(-90)" font-family='"Liberation Sans", sans-serif' font-weight="normal" font-size="6.694" fill="#3c3c3c" stroke="#3c3c3c" stroke-width="0.1">μ</text>
<text transform="translate(12 116.94) rotate(-90)" font-family='"Liberation Sans", sans-serif' font-weight="normal" font-size="8.582" fill="#3c3c3c" stroke="#3c3c3c" stroke-width="0.1">[</text>
<text transform="translate(12 120.28) rotate(-90)" font-family='"Liberation Sans", sans-serif' font-weight="normal" font-size="8.582" fill="#3c3c3c" stroke="#3c3c3c" stroke-width="0.1">(</text>
<text transform="translate(12 269.1) rotate(-90) scale(1.0164 1)" font-family='"Liberation Sans", sans-serif' font-weight="normal" font-size="8.582" fill="#3c3c3c" stroke="#3c3c3c" stroke-width="0.1">Hilbert Envelope</text>
<text transform="translate(12 364) rotate(-90) scale(0.8164 1)" font-family='"Liberation Sans", sans-serif' font-weight="normal" font-size="8.582" fill="#3c3c3c" stroke="#3c3c3c" stroke-width="0.1">EEG</text>
<text transform="translate(12 326.08) rotate(-90)" font-family='"Liberation Sans", sans-serif' font-weight="normal" font-size="8.582" fill="#3c3c3c" stroke="#3c3c3c" stroke-width="0.1">)</text>
<text transform="translate(12 328.79) rotate(-90)" font-family='"Liberation Sans", sans-serif' font-weight="normal" font-size="8.582" fill="#3c3c3c" stroke="#3c3c3c" stroke-width="0.1">]</text>
<text transform="translate(12 334.96) rotate(-90)" font-family='"Liberation Sans", sans-serif' font-weight="normal" font-size="8.582" fill="#3c3c3c" stroke="#3c3c3c" stroke-width="0.1">V</text>
<text transform="translate(13 339.12) rotate(-90)" font-family='"Liberation Sans", sans-serif' font-weight="normal" font-size="6.694" fill="#3c3c3c" stroke="#3c3c3c" stroke-width="0.1">μ</text>
<text transform="translate(12 342.94) rotate(-90)" font-family='"Liberation Sans", sans-serif' font-weight="normal" font-size="8.582" fill="#3c3c3c" stroke="#3c3c3c" stroke-width="0.1">[</text>
<text transform="translate(12 346.28) rotate(-90)" font-family='"Liberation Sans", sans-serif' font-weight="normal" font-size="8.582" fill="#3c3c3c" stroke="#3c3c3c" stroke-width="0.1">(</text>
<text transform="translate(11 482.9) rotate(-90) scale(0.9545 1)" font-family='"Liberation Sans", sans-serif' font-weight="normal" font-size="8.582" fill="#3c3c3c" stroke="#3c3c3c" stroke-width="0.1">Ripple Band EEG</text>
<text transform="translate(11 396.18) rotate(-90)" font-family='"Liberation Sans", sans-serif' font-weight="normal" font-size="8.582" fill="#3c3c3c" stroke="#3c3c3c" stroke-width="0.1">)</text>
<text transform="translate(11 399.04) rotate(-90)" font-family='"Liberation Sans", sans-serif' font-weight="normal" font-size="8.582" fill="#3c3c3c" stroke="#3c3c3c" stroke-width="0.1">]</text>
<text transform="translate(11 404.96) rotate(-90)" font-family='"Liberation Sans", sans-serif' font-weight="normal" font-size="8.582" fill="#3c3c3c" stroke="#3c3c3c" stroke-width="0.1">V</text>
<text transform="translate(14.5 409.32) rotate(-90)" font-family='"Liberation Sans", sans-serif' font-weight="normal" font-size="6.694" fill="#3c3c3c" stroke="#3c3c3c" stroke-width="0.1">μ</text>
<text transform="translate(11 412.74) rotate(-90)" font-family='"Liberation Sans", sans-serif' font-weight="normal" font-size="8.582" fill="#3c3c3c" stroke="#3c3c3c" stroke-width="0.1">[</text>
<text transform="translate(11 416.08) rotate(-90)" font-family='"Liberation Sans", sans-serif' font-weight="normal" font-size="8.582" fill="#3c3c3c" stroke="#3c3c3c" stroke-width="0.1">(</text>
<text transform="translate(11 564) rotate(-90) scale(1.0132 1)" font-family='"Liberation Sans", sans-serif' font-weight="normal" font-size="8.582" fill="#3c3c3c" stroke="#3c3c3c" stroke-width="0.1">Hilbert Envelope</text>
<text transform="translate(440.9 10.6) scale(0.6803 1)" font-family='"Liberation Sans", sans-serif' font-weight="normal" font-size="15.855" fill="#000" stroke="#000" stroke-width="0.5">B</text>
<text transform="translate(447.97 82.9) rotate(-90) scale(0.7860 1)" font-family='"Liberation Sans", sans-serif' font-weight="bold" font-size="12.925" fill="#000">Recollection</text>
<text transform="translate(458.88 85.3) rotate(-90) scale(1.0782 1)" font-family='"Liberation Sans", sans-serif' font-weight="normal" font-size="7.828" fill="#555" stroke="#555" stroke-width="0.22">Ripple Rate (Hz)</text>
<text transform="translate(445.77 191.8) rotate(-90) scale(0.9842 1)" font-family='"Liberation Sans", sans-serif' font-weight="bold" font-size="10.724" fill="#000">Familiarity</text>
<text transform="translate(445.77 295.3) rotate(-90) scale(0.9964 1)" font-family='"Liberation Sans", sans-serif' font-weight="bold" font-size="10.724" fill="#000">Novelty</text>
<text transform="translate(503.3 11.72) scale(1.1536 1)" font-family='"Liberation Sans", sans-serif' font-weight="bold" font-size="7.755" fill="#000" stroke="#000" stroke-width="0.12">Anterior</text>
<text transform="translate(608.8 11.72) scale(1.1514 1)" font-family='"Liberation Sans", sans-serif' font-weight="bold" font-size="7.755" fill="#000" stroke="#000" stroke-width="0.12">Posterior</text>
<rect x="494.4" y="63.3" width="23.3" height="30.7" fill="#0072bd" stroke="#1b1b1b" stroke-width="0.6"/>
<line x1="506.05" y1="57.4" x2="506.05" y2="68.3" stroke="#1a1a1a" stroke-width="0.7"/>
<line x1="503.55" y1="57.4" x2="508.55" y2="57.4" stroke="#1a1a1a" stroke-width="0.75"/>
<line x1="503.55" y1="68.3" x2="508.55" y2="68.3" stroke="#1a1a1a" stroke-width="0.75"/>
<text transform="translate(502.4 103) scale(0.7345 1)" font-family='"Liberation Serif", serif' font-weight="normal" font-size="9.008" fill="#444" stroke="#444" stroke-width="0.4">I</text>
<text transform="translate(505.7 103) scale(0.6451 1)" font-family='"Liberation Sans", sans-serif' font-weight="normal" font-size="8.582" fill="#444" stroke="#444" stroke-width="0.22">R</text>
<line x1="506.05" y1="15.3" x2="506.05" y2="16.8" stroke="#444" stroke-width="0.8"/>
<line x1="506.05" y1="94" x2="506.05" y2="92.5" stroke="#444" stroke-width="0.8"/>
<rect x="524" y="56.3" width="23.2" height="37.7" fill="#0072bd" stroke="#1b1b1b" stroke-width="0.6"/>
<line x1="535.6" y1="52.4" x2="535.6" y2="59.3" stroke="#1a1a1a" stroke-width="0.7"/>
<line x1="533.1" y1="52.4" x2="538.1" y2="52.4" stroke="#1a1a1a" stroke-width="0.75"/>
<line x1="533.1" y1="59.3" x2="538.1" y2="59.3" stroke="#1a1a1a" stroke-width="0.75"/>
<text transform="translate(533.7 103) scale(0.7012 1)" font-family='"Liberation Serif", serif' font-weight="normal" font-size="9.008" fill="#444" stroke="#444" stroke-width="0.4">I</text>
<text transform="translate(536.9 103) scale(0.7345 1)" font-family='"Liberation Serif", serif' font-weight="normal" font-size="9.008" fill="#444" stroke="#444" stroke-width="0.4">I</text>
<line x1="535.6" y1="15.3" x2="535.6" y2="16.8" stroke="#444" stroke-width="0.8"/>
<line x1="535.6" y1="94" x2="535.6" y2="92.5" stroke="#444" stroke-width="0.8"/>
<rect x="480" y="15.3" width="81.6" height="78.7" fill="none" stroke="#8c8c8c" stroke-width="1"/>
<line x1="480" y1="39.1" x2="481.6" y2="39.1" stroke="#555" stroke-width="0.8"/>
<line x1="561.6" y1="39.1" x2="560" y2="39.1" stroke="#555" stroke-width="0.8"/>
<line x1="480" y1="78.2" x2="481.6" y2="78.2" stroke="#555" stroke-width="0.8"/>
<line x1="561.6" y1="78.2" x2="560" y2="78.2" stroke="#555" stroke-width="0.8"/>
<text transform="translate(462.4 41.72) scale(0.9445 1)" font-family='"Liberation Sans", sans-serif' font-weight="normal" font-size="8.481" fill="#444" stroke="#444" stroke-width="0.22">0.25</text>
<text transform="translate(467.3 80.92) scale(0.9566 1)" font-family='"Liberation Sans", sans-serif' font-weight="normal" font-size="8.198" fill="#444" stroke="#444" stroke-width="0.22">0.2</text>
<rect x="602.1" y="48.6" width="23.3" height="45.4" fill="#0072bd" stroke="#1b1b1b" stroke-width="0.6"/>
<line x1="613.75" y1="42.3" x2="613.75" y2="54.7" stroke="#1a1a1a" stroke-width="0.7"/>
<line x1="611.25" y1="42.3" x2="616.25" y2="42.3" stroke="#1a1a1a" stroke-width="0.75"/>
<line x1="611.25" y1="54.7" x2="616.25" y2="54.7" stroke="#1a1a1a" stroke-width="0.75"/>
<text transform="translate(610.1 103) scale(0.7345 1)" font-family='"Liberation Serif", serif' font-weight="normal" font-size="9.008" fill="#444" stroke="#444" stroke-width="0.4">I</text>
<text transform="translate(613.4 103) scale(0.6451 1)" font-family='"Liberation Sans", sans-serif' font-weight="normal" font-size="8.582" fill="#444" stroke="#444" stroke-width="0.22">R</text>
<line x1="613.75" y1="15.3" x2="613.75" y2="16.8" stroke="#444" stroke-width="0.8"/>
<line x1="613.75" y1="94" x2="613.75" y2="92.5" stroke="#444" stroke-width="0.8"/>
<rect x="631.7" y="49.2" width="23.2" height="44.8" fill="#0072bd" stroke="#1b1b1b" stroke-width="0.6"/>
<line x1="643.3" y1="45.4" x2="643.3" y2="53.4" stroke="#1a1a1a" stroke-width="0.7"/>
<line x1="640.8" y1="45.4" x2="645.8" y2="45.4" stroke="#1a1a1a" stroke-width="0.75"/>
<line x1="640.8" y1="53.4" x2="645.8" y2="53.4" stroke="#1a1a1a" stroke-width="0.75"/>
<text transform="translate(641.4 103) scale(0.7012 1)" font-family='"Liberation Serif", serif' font-weight="normal" font-size="9.008" fill="#444" stroke="#444" stroke-width="0.4">I</text>
<text transform="translate(644.6 103) scale(0.7345 1)" font-family='"Liberation Serif", serif' font-weight="normal" font-size="9.008" fill="#444" stroke="#444" stroke-width="0.4">I</text>
<line x1="643.3" y1="15.3" x2="643.3" y2="16.8" stroke="#444" stroke-width="0.8"/>
<line x1="643.3" y1="94" x2="643.3" y2="92.5" stroke="#444" stroke-width="0.8"/>
<rect x="587.7" y="15.3" width="81.6" height="78.7" fill="none" stroke="#8c8c8c" stroke-width="1"/>
<line x1="587.7" y1="39.1" x2="589.3" y2="39.1" stroke="#555" stroke-width="0.8"/>
<line x1="669.3" y1="39.1" x2="667.7" y2="39.1" stroke="#555" stroke-width="0.8"/>
<line x1="587.7" y1="78.2" x2="589.3" y2="78.2" stroke="#555" stroke-width="0.8"/>
<line x1="669.3" y1="78.2" x2="667.7" y2="78.2" stroke="#555" stroke-width="0.8"/>
<text transform="translate(570.1 41.72) scale(0.9445 1)" font-family='"Liberation Sans", sans-serif' font-weight="normal" font-size="8.481" fill="#444" stroke="#444" stroke-width="0.22">0.25</text>
<text transform="translate(575 80.92) scale(0.9566 1)" font-family='"Liberation Sans", sans-serif' font-weight="normal" font-size="8.198" fill="#444" stroke="#444" stroke-width="0.22">0.2</text>
<rect x="494.4" y="168.7" width="23.3" height="35.3" fill="#0072bd" stroke="#1b1b1b" stroke-width="0.6"/>
<line x1="506.05" y1="164.3" x2="506.05" y2="173.5" stroke="#1a1a1a" stroke-width="0.7"/>
<line x1="503.55" y1="164.3" x2="508.55" y2="164.3" stroke="#1a1a1a" stroke-width="0.75"/>
<line x1="503.55" y1="173.5" x2="508.55" y2="173.5" stroke="#1a1a1a" stroke-width="0.75"/>
<text transform="translate(501.3 213) scale(0.7964 1)" font-family='"Liberation Sans", sans-serif' font-weight="normal" font-size="8.582" fill="#444" stroke="#444" stroke-width="0.22">XN</text>
<line x1="506.05" y1="125.3" x2="506.05" y2="126.8" stroke="#444" stroke-width="0.8"/>
<line x1="506.05" y1="204" x2="506.05" y2="202.5" stroke="#444" stroke-width="0.8"/>
<rect x="524" y="173.1" width="23.2" height="30.9" fill="#0072bd" stroke="#1b1b1b" stroke-width="0.6"/>
<line x1="535.6" y1="167.2" x2="535.6" y2="178.3" stroke="#1a1a1a" stroke-width="0.7"/>
<line x1="533.1" y1="167.2" x2="538.1" y2="167.2" stroke="#1a1a1a" stroke-width="0.75"/>
<line x1="533.1" y1="178.3" x2="538.1" y2="178.3" stroke="#1a1a1a" stroke-width="0.75"/>
<text transform="translate(531.95 213) scale(0.7345 1)" font-family='"Liberation Serif", serif' font-weight="normal" font-size="9.008" fill="#444" stroke="#444" stroke-width="0.4">I</text>
<text transform="translate(535.25 213) scale(0.6451 1)" font-family='"Liberation Sans", sans-serif' font-weight="normal" font-size="8.582" fill="#444" stroke="#444" stroke-width="0.22">R</text>
<line x1="535.6" y1="125.3" x2="535.6" y2="126.8" stroke="#444" stroke-width="0.8"/>
<line x1="535.6" y1="204" x2="535.6" y2="202.5" stroke="#444" stroke-width="0.8"/>
<rect x="480" y="125.3" width="81.6" height="78.7" fill="none" stroke="#8c8c8c" stroke-width="1"/>
<line x1="480" y1="149.1" x2="481.6" y2="149.1" stroke="#555" stroke-width="0.8"/>
<line x1="561.6" y1="149.1" x2="560" y2="149.1" stroke="#555" stroke-width="0.8"/>
<line x1="480" y1="188.2" x2="481.6" y2="188.2" stroke="#555" stroke-width="0.8"/>
<line x1="561.6" y1="188.2" x2="560" y2="188.2" stroke="#555" stroke-width="0.8"/>
<text transform="translate(462.4 151.72) scale(0.9445 1)" font-family='"Liberation Sans", sans-serif' font-weight="normal" font-size="8.481" fill="#444" stroke="#444" stroke-width="0.22">0.25</text>
<text transform="translate(467.3 190.92) scale(0.9566 1)" font-family='"Liberation Sans", sans-serif' font-weight="normal" font-size="8.198" fill="#444" stroke="#444" stroke-width="0.22">0.2</text>
<rect x="602.1" y="168.2" width="23.3" height="35.8" fill="#0072bd" stroke="#1b1b1b" stroke-width="0.6"/>
<line x1="613.75" y1="163.4" x2="613.75" y2="173.3" stroke="#1a1a1a" stroke-width="0.7"/>
<line x1="611.25" y1="163.4" x2="616.25" y2="163.4" stroke="#1a1a1a" stroke-width="0.75"/>
<line x1="611.25" y1="173.3" x2="616.25" y2="173.3" stroke="#1a1a1a" stroke-width="0.75"/>
<text transform="translate(609 213) scale(0.7964 1)" font-family='"Liberation Sans", sans-serif' font-weight="normal" font-size="8.582" fill="#444" stroke="#444" stroke-width="0.22">XN</text>
<line x1="613.75" y1="125.3" x2="613.75" y2="126.8" stroke="#444" stroke-width="0.8"/>
<line x1="613.75" y1="204" x2="613.75" y2="202.5" stroke="#444" stroke-width="0.8"/>
<rect x="631.7" y="158.4" width="23.2" height="45.6" fill="#0072bd" stroke="#1b1b1b" stroke-width="0.6"/>
<line x1="643.3" y1="152.3" x2="643.3" y2="164.7" stroke="#1a1a1a" stroke-width="0.7"/>
<line x1="640.8" y1="152.3" x2="645.8" y2="152.3" stroke="#1a1a1a" stroke-width="0.75"/>
<line x1="640.8" y1="164.7" x2="645.8" y2="164.7" stroke="#1a1a1a" stroke-width="0.75"/>
<text transform="translate(639.65 213) scale(0.7345 1)" font-family='"Liberation Serif", serif' font-weight="normal" font-size="9.008" fill="#444" stroke="#444" stroke-width="0.4">I</text>
<text transform="translate(642.95 213) scale(0.6451 1)" font-family='"Liberation Sans", sans-serif' font-weight="normal" font-size="8.582" fill="#444" stroke="#444" stroke-width="0.22">R</text>
<line x1="643.3" y1="125.3" x2="643.3" y2="126.8" stroke="#444" stroke-width="0.8"/>
<line x1="643.3" y1="204" x2="643.3" y2="202.5" stroke="#444" stroke-width="0.8"/>
<rect x="587.7" y="125.3" width="81.6" height="78.7" fill="none" stroke="#8c8c8c" stroke-width="1"/>
<line x1="587.7" y1="149.1" x2="589.3" y2="149.1" stroke="#555" stroke-width="0.8"/>
<line x1="669.3" y1="149.1" x2="667.7" y2="149.1" stroke="#555" stroke-width="0.8"/>
<line x1="587.7" y1="188.2" x2="589.3" y2="188.2" stroke="#555" stroke-width="0.8"/>
<line x1="669.3" y1="188.2" x2="667.7" y2="188.2" stroke="#555" stroke-width="0.8"/>
<text transform="translate(570.1 151.72) scale(0.9445 1)" font-family='"Liberation Sans", sans-serif' font-weight="normal" font-size="8.481" fill="#444" stroke="#444" stroke-width="0.22">0.25</text>
<text transform="translate(575 190.92) scale(0.9566 1)" font-family='"Liberation Sans", sans-serif' font-weight="normal" font-size="8.198" fill="#444" stroke="#444" stroke-width="0.22">0.2</text>
<rect x="494.4" y="283.1" width="23.3" height="30.9" fill="#0072bd" stroke="#1b1b1b" stroke-width="0.6"/>
<line x1="506.05" y1="277.2" x2="506.05" y2="288.3" stroke="#1a1a1a" stroke-width="0.7"/>
<line x1="503.55" y1="277.2" x2="508.55" y2="277.2" stroke="#1a1a1a" stroke-width="0.75"/>
<line x1="503.55" y1="288.3" x2="508.55" y2="288.3" stroke="#1a1a1a" stroke-width="0.75"/>
<text transform="translate(502.4 323) scale(0.7345 1)" font-family='"Liberation Serif", serif' font-weight="normal" font-size="9.008" fill="#444" stroke="#444" stroke-width="0.4">I</text>
<text transform="translate(505.7 323) scale(0.6451 1)" font-family='"Liberation Sans", sans-serif' font-weight="normal" font-size="8.582" fill="#444" stroke="#444" stroke-width="0.22">R</text>
<line x1="506.05" y1="235.3" x2="506.05" y2="236.8" stroke="#444" stroke-width="0.8"/>
<line x1="506.05" y1="314" x2="506.05" y2="312.5" stroke="#444" stroke-width="0.8"/>
<rect x="524" y="271.5" width="23.2" height="42.5" fill="#0072bd" stroke="#1b1b1b" stroke-width="0.6"/>
<line x1="535.6" y1="266.7" x2="535.6" y2="276.4" stroke="#1a1a1a" stroke-width="0.7"/>
<line x1="533.1" y1="266.7" x2="538.1" y2="266.7" stroke="#1a1a1a" stroke-width="0.75"/>
<line x1="533.1" y1="276.4" x2="538.1" y2="276.4" stroke="#1a1a1a" stroke-width="0.75"/>
<text transform="translate(530.6 323) scale(0.8064 1)" font-family='"Liberation Sans", sans-serif' font-weight="normal" font-size="8.582" fill="#444" stroke="#444" stroke-width="0.22">NN</text>
<line x1="535.6" y1="235.3" x2="535.6" y2="236.8" stroke="#444" stroke-width="0.8"/>
<line x1="535.6" y1="314" x2="535.6" y2="312.5" stroke="#444" stroke-width="0.8"/>
<rect x="480" y="235.3" width="81.6" height="78.7" fill="none" stroke="#8c8c8c" stroke-width="1"/>
<line x1="480" y1="259.1" x2="481.6" y2="259.1" stroke="#555" stroke-width="0.8"/>
<line x1="561.6" y1="259.1" x2="560" y2="259.1" stroke="#555" stroke-width="0.8"/>
<line x1="480" y1="298.2" x2="481.6" y2="298.2" stroke="#555" stroke-width="0.8"/>
<line x1="561.6" y1="298.2" x2="560" y2="298.2" stroke="#555" stroke-width="0.8"/>
<text transform="translate(462.4 261.72) scale(0.9445 1)" font-family='"Liberation Sans", sans-serif' font-weight="normal" font-size="8.481" fill="#444" stroke="#444" stroke-width="0.22">0.25</text>
<text transform="translate(467.3 300.92) scale(0.9566 1)" font-family='"Liberation Sans", sans-serif' font-weight="normal" font-size="8.198" fill="#444" stroke="#444" stroke-width="0.22">0.2</text>
<rect x="602.1" y="268.4" width="23.3" height="45.6" fill="#0072bd" stroke="#1b1b1b" stroke-width="0.6"/>
<line x1="613.75" y1="262.3" x2="613.75" y2="274.7" stroke="#1a1a1a" stroke-width="0.7"/>
<line x1="611.25" y1="262.3" x2="616.25" y2="262.3" stroke="#1a1a1a" stroke-width="0.75"/>
<line x1="611.25" y1="274.7" x2="616.25" y2="274.7" stroke="#1a1a1a" stroke-width="0.75"/>
<text transform="translate(610.1 323) scale(0.7345 1)" font-family='"Liberation Serif", serif' font-weight="normal" font-size="9.008" fill="#444" stroke="#444" stroke-width="0.4">I</text>
<text transform="translate(613.4 323) scale(0.6451 1)" font-family='"Liberation Sans", sans-serif' font-weight="normal" font-size="8.582" fill="#444" stroke="#444" stroke-width="0.22">R</text>
<line x1="613.75" y1="235.3" x2="613.75" y2="236.8" stroke="#444" stroke-width="0.8"/>
<line x1="613.75" y1="314" x2="613.75" y2="312.5" stroke="#444" stroke-width="0.8"/>
<rect x="631.7" y="274" width="23.2" height="40" fill="#0072bd" stroke="#1b1b1b" stroke-width="0.6"/>
<line x1="643.3" y1="269" x2="643.3" y2="279.1" stroke="#1a1a1a" stroke-width="0.7"/>
<line x1="640.8" y1="269" x2="645.8" y2="269" stroke="#1a1a1a" stroke-width="0.75"/>
<line x1="640.8" y1="279.1" x2="645.8" y2="279.1" stroke="#1a1a1a" stroke-width="0.75"/>
<text transform="translate(638.3 323) scale(0.8064 1)" font-family='"Liberation Sans", sans-serif' font-weight="normal" font-size="8.582" fill="#444" stroke="#444" stroke-width="0.22">NN</text>
<line x1="643.3" y1="235.3" x2="643.3" y2="236.8" stroke="#444" stroke-width="0.8"/>
<line x1="643.3" y1="314" x2="643.3" y2="312.5" stroke="#444" stroke-width="0.8"/>
<rect x="587.7" y="235.3" width="81.6" height="78.7" fill="none" stroke="#8c8c8c" stroke-width="1"/>
<line x1="587.7" y1="259.1" x2="589.3" y2="259.1" stroke="#555" stroke-width="0.8"/>
<line x1="669.3" y1="259.1" x2="667.7" y2="259.1" stroke="#555" stroke-width="0.8"/>
<line x1="587.7" y1="298.2" x2="589.3" y2="298.2" stroke="#555" stroke-width="0.8"/>
<line x1="669.3" y1="298.2" x2="667.7" y2="298.2" stroke="#555" stroke-width="0.8"/>
<text transform="translate(570.1 261.72) scale(0.9445 1)" font-family='"Liberation Sans", sans-serif' font-weight="normal" font-size="8.481" fill="#444" stroke="#444" stroke-width="0.22">0.25</text>
<text transform="translate(575 300.92) scale(0.9566 1)" font-family='"Liberation Sans", sans-serif' font-weight="normal" font-size="8.198" fill="#444" stroke="#444" stroke-width="0.22">0.2</text>
<path d="M445.6 336.19 A3.72 4.8 0 1 0 445.6 342.11" fill="none" stroke="#000" stroke-width="1.5"/>
<text transform="translate(488.3 345.52) scale(1.1733 1)" font-family='"Liberation Sans", sans-serif' font-weight="bold" font-size="8.435" fill="#000" stroke="#000" stroke-width="0.12">Anterior</text>
<text transform="translate(608.8 345.52) scale(1.1585 1)" font-family='"Liberation Sans", sans-serif' font-weight="bold" font-size="8.435" fill="#000" stroke="#000" stroke-width="0.12">Posterior</text>
<text transform="translate(456.84 433.7) rotate(-90) scale(1.0586 1)" font-family='"Liberation Sans", sans-serif' font-weight="bold" font-size="9.437" fill="#000">Intact-Intact (II)</text>
<text transform="translate(455.72 545) rotate(-90) scale(0.9665 1)" font-family='"Liberation Sans", sans-serif' font-weight="bold" font-size="10.509" fill="#000">New-New (NN)</text>
<circle cx="507.7" cy="392.6" r="43.3" fill="none" stroke="#e4e4e4" stroke-width="1"/>
<circle cx="507.7" cy="392.6" r="37.4" fill="none" stroke="#e4e4e4" stroke-width="1"/>
<line x1="507.7" y1="392.6" x2="551" y2="392.6" stroke="#e6e6e6" stroke-width="1.1"/>
<path d="M522.8 392.6 A15 15 0 0 0 521.9 387.47 L525.18 386.27 A18.5 18.5 0 0 0 521.97 380.71 L525.8 377.49 A23.5 23.5 0 0 0 519.55 372.25 L517.8 375.28 A20 20 0 0 0 511.27 372.9 L511.1 373.89 A19 19 0 0 0 504.5 373.89 L503.02 365.52 A27.5 27.5 0 0 0 494.05 368.78 L496.05 372.25 A23.5 23.5 0 0 0 489.8 377.49 L489.8 377.49 A23.5 23.5 0 0 0 485.72 384.56 L490.89 386.44 A18 18 0 0 0 489.8 392.6 L488.3 392.6 A19.5 19.5 0 0 0 489.48 399.27 L487.78 399.89 A21.3 21.3 0 0 0 491.48 406.29 L488.88 408.48 A24.7 24.7 0 0 0 495.45 413.99 L498.55 408.62 A18.5 18.5 0 0 0 504.59 410.82 L504.93 408.85 A16.5 16.5 0 0 0 510.67 408.85 L510.58 408.36 A16 16 0 0 0 515.8 406.46 L515.55 406.02 A15.5 15.5 0 0 0 519.67 402.56 L519.37 402.31 A15.1 15.1 0 0 0 521.99 397.76 L529.88 400.64 A23.5 23.5 0 0 0 531.3 392.6 Z" fill="none" stroke="#4893d6" stroke-width="0.95" stroke-linejoin="miter"/>
<line x1="507.8" y1="392.6" x2="504.9" y2="387.7" stroke="#ff0000" stroke-width="2" stroke-linecap="round"/>
<rect x="507.9" y="352.6" width="13.3" height="7" fill="#fff"/>
<text transform="translate(508.5 358.92) scale(1.0619 1)" font-family='"Liberation Sans", sans-serif' font-weight="normal" font-size="8.198" fill="#404040" stroke="#404040" stroke-width="0.15">0.3</text>
<text transform="translate(553.8 395.61) scale(0.9723 1)" font-family='"Liberation Sans", sans-serif' font-weight="normal" font-size="9.046" fill="#404040" stroke="#404040" stroke-width="0.15">0°</text>
<circle cx="630.5" cy="392.6" r="43.3" fill="none" stroke="#e4e4e4" stroke-width="1"/>
<circle cx="630.5" cy="392.6" r="37.4" fill="none" stroke="#e4e4e4" stroke-width="1"/>
<line x1="630.5" y1="392.6" x2="673.8" y2="392.6" stroke="#e6e6e6" stroke-width="1.1"/>
<path d="M656.5 392.8 A25.5 25.5 0 0 0 654.96 384.08 L651.67 385.28 A22 22 0 0 0 647.85 378.66 L649.84 376.99 A24.6 24.6 0 0 0 643.3 371.5 L639.65 377.82 A17.3 17.3 0 0 0 634 375.76 L634.13 375.07 A18 18 0 0 0 627.87 375.07 L627.53 373.1 A20 20 0 0 0 621 375.48 L623.75 380.24 A14.5 14.5 0 0 0 619.89 383.48 L617.21 381.23 A18 18 0 0 0 614.09 386.64 L614.27 386.71 A17.8 17.8 0 0 0 613.2 392.8 L608 392.8 A23 23 0 0 0 609.39 400.67 L619.07 397.14 A12.7 12.7 0 0 0 621.27 400.96 L616.98 404.56 A18.3 18.3 0 0 0 621.85 408.65 L619.85 412.11 A22.3 22.3 0 0 0 627.13 414.76 L627.23 414.17 A21.7 21.7 0 0 0 634.77 414.17 L633.9 409.25 A16.7 16.7 0 0 0 639.35 407.26 L640.75 409.69 A19.5 19.5 0 0 0 645.94 405.33 L648.62 407.58 A23 23 0 0 0 652.61 400.67 L654.77 401.45 A25.3 25.3 0 0 0 656.3 392.8 Z" fill="none" stroke="#4893d6" stroke-width="0.95" stroke-linejoin="miter"/>
<line x1="631" y1="392.8" x2="636.4" y2="393.7" stroke="#ff0000" stroke-width="2" stroke-linecap="round"/>
<rect x="630.8" y="352.5" width="13.1" height="7" fill="#fff"/>
<text transform="translate(631.4 358.82) scale(1.0443 1)" font-family='"Liberation Sans", sans-serif' font-weight="normal" font-size="8.198" fill="#404040" stroke="#404040" stroke-width="0.15">0.3</text>
<text transform="translate(676.8 395.71) scale(1.0037 1)" font-family='"Liberation Sans", sans-serif' font-weight="normal" font-size="8.763" fill="#404040" stroke="#404040" stroke-width="0.15">0°</text>
<circle cx="503.8" cy="510.5" r="43.3" fill="none" stroke="#e4e4e4" stroke-width="1"/>
<circle cx="503.8" cy="510.5" r="37.4" fill="none" stroke="#e4e4e4" stroke-width="1"/>
<line x1="503.8" y1="510.5" x2="547.1" y2="510.5" stroke="#e6e6e6" stroke-width="1.1"/>
<path d="M523.2 510.5 A18.7 18.7 0 0 0 521.35 502.39 L524.86 500.69 A22.6 22.6 0 0 0 518.59 492.83 L516.47 495.49 A19.2 19.2 0 0 0 508.77 491.78 L508.22 494.22 A16.7 16.7 0 0 0 500.78 494.22 L500.61 493.44 A17.5 17.5 0 0 0 493.59 496.82 L485.48 486.65 A30.5 30.5 0 0 0 477.02 497.27 L490.08 503.56 A16 16 0 0 0 488.5 510.5 L488.3 510.5 A16.2 16.2 0 0 0 489.9 517.53 L487.74 518.57 A18.6 18.6 0 0 0 492.9 525.04 L490.78 527.7 A22 22 0 0 0 499.6 531.95 L500.49 528.05 A18 18 0 0 0 508.51 528.05 L508.86 529.61 A19.6 19.6 0 0 0 516.72 525.82 L517.03 526.21 A20.1 20.1 0 0 0 522.61 519.22 L524.32 520.05 A22 22 0 0 0 526.5 510.5 Z" fill="none" stroke="#4893d6" stroke-width="0.95" stroke-linejoin="miter"/>
<line x1="504.5" y1="510.5" x2="505.4" y2="509.6" stroke="#ff0000" stroke-width="2" stroke-linecap="round"/>
<rect x="504.3" y="470.5" width="13.2" height="7.1" fill="#fff"/>
<text transform="translate(504.9 476.92) scale(1.0352 1)" font-family='"Liberation Sans", sans-serif' font-weight="normal" font-size="8.339" fill="#404040" stroke="#404040" stroke-width="0.15">0.3</text>
<text transform="translate(550 513.71) scale(1.0687 1)" font-family='"Liberation Sans", sans-serif' font-weight="normal" font-size="8.622" fill="#404040" stroke="#404040" stroke-width="0.15">0°</text>
<circle cx="627" cy="510.5" r="43.3" fill="none" stroke="#e4e4e4" stroke-width="1"/>
<circle cx="627" cy="510.5" r="37.4" fill="none" stroke="#e4e4e4" stroke-width="1"/>
<line x1="627" y1="510.5" x2="670.3" y2="510.5" stroke="#e6e6e6" stroke-width="1.1"/>
<path d="M651 515.94 A24 24 0 0 0 651 504.46 L647.12 505.41 A20 20 0 0 0 642.67 496.94 L645.07 494.82 A23.2 23.2 0 0 0 635.93 488.51 L634.79 491.5 A20 20 0 0 0 625.29 490.35 L626.07 496.8 A13.5 13.5 0 0 0 620.03 499.09 L614.63 491.27 A23 23 0 0 0 607.33 499.51 L609.99 500.91 A20 20 0 0 0 607.7 510.2 L608.2 510.2 A19.5 19.5 0 0 0 610.43 519.26 L612.91 517.96 A16.7 16.7 0 0 0 618.21 523.94 L615.2 528.31 A22 22 0 0 0 625.05 532.04 L625.69 526.78 A16.7 16.7 0 0 0 633.62 525.81 L634.44 527.97 A19 19 0 0 0 641.92 522.8 L643.42 524.13 A21 21 0 0 0 648.09 515.23 Z" fill="none" stroke="#4893d6" stroke-width="0.95" stroke-linejoin="miter"/>
<line x1="627.7" y1="510.2" x2="630.6" y2="508.4" stroke="#ff0000" stroke-width="2" stroke-linecap="round"/>
<rect x="627.2" y="470.5" width="13.4" height="7.1" fill="#fff"/>
<text transform="translate(627.8 476.92) scale(1.0525 1)" font-family='"Liberation Sans", sans-serif' font-weight="normal" font-size="8.339" fill="#404040" stroke="#404040" stroke-width="0.15">0.3</text>
<text transform="translate(673 513.71) scale(1.0809 1)" font-family='"Liberation Sans", sans-serif' font-weight="normal" font-size="8.622" fill="#404040" stroke="#404040" stroke-width="0.15">0°</text>
<text transform="translate(484 449.08) scale(0.9583 1)" font-family='"Liberation Sans", sans-serif' font-weight="bold" font-size="8.287" fill="#111" stroke="#111" stroke-width="0.12">p = 0.0242</text>
<text transform="translate(605.8 449.98) scale(0.9533 1)" font-family='"Liberation Sans", sans-serif' font-weight="bold" font-size="8.287" fill="#111" stroke="#111" stroke-width="0.12">p = 0.0038</text>
<text transform="translate(483.8 566.83) scale(0.9743 1)" font-family='"Liberation Sans", sans-serif' font-weight="bold" font-size="8.066" fill="#111" stroke="#111" stroke-width="0.12">p = 0.5008</text>
<text transform="translate(608.9 566.83) scale(0.9743 1)" font-family='"Liberation Sans", sans-serif' font-weight="bold" font-size="8.066" fill="#111" stroke="#111" stroke-width="0.12">p = 0.0955</text>
</svg></div>
</body></html>
